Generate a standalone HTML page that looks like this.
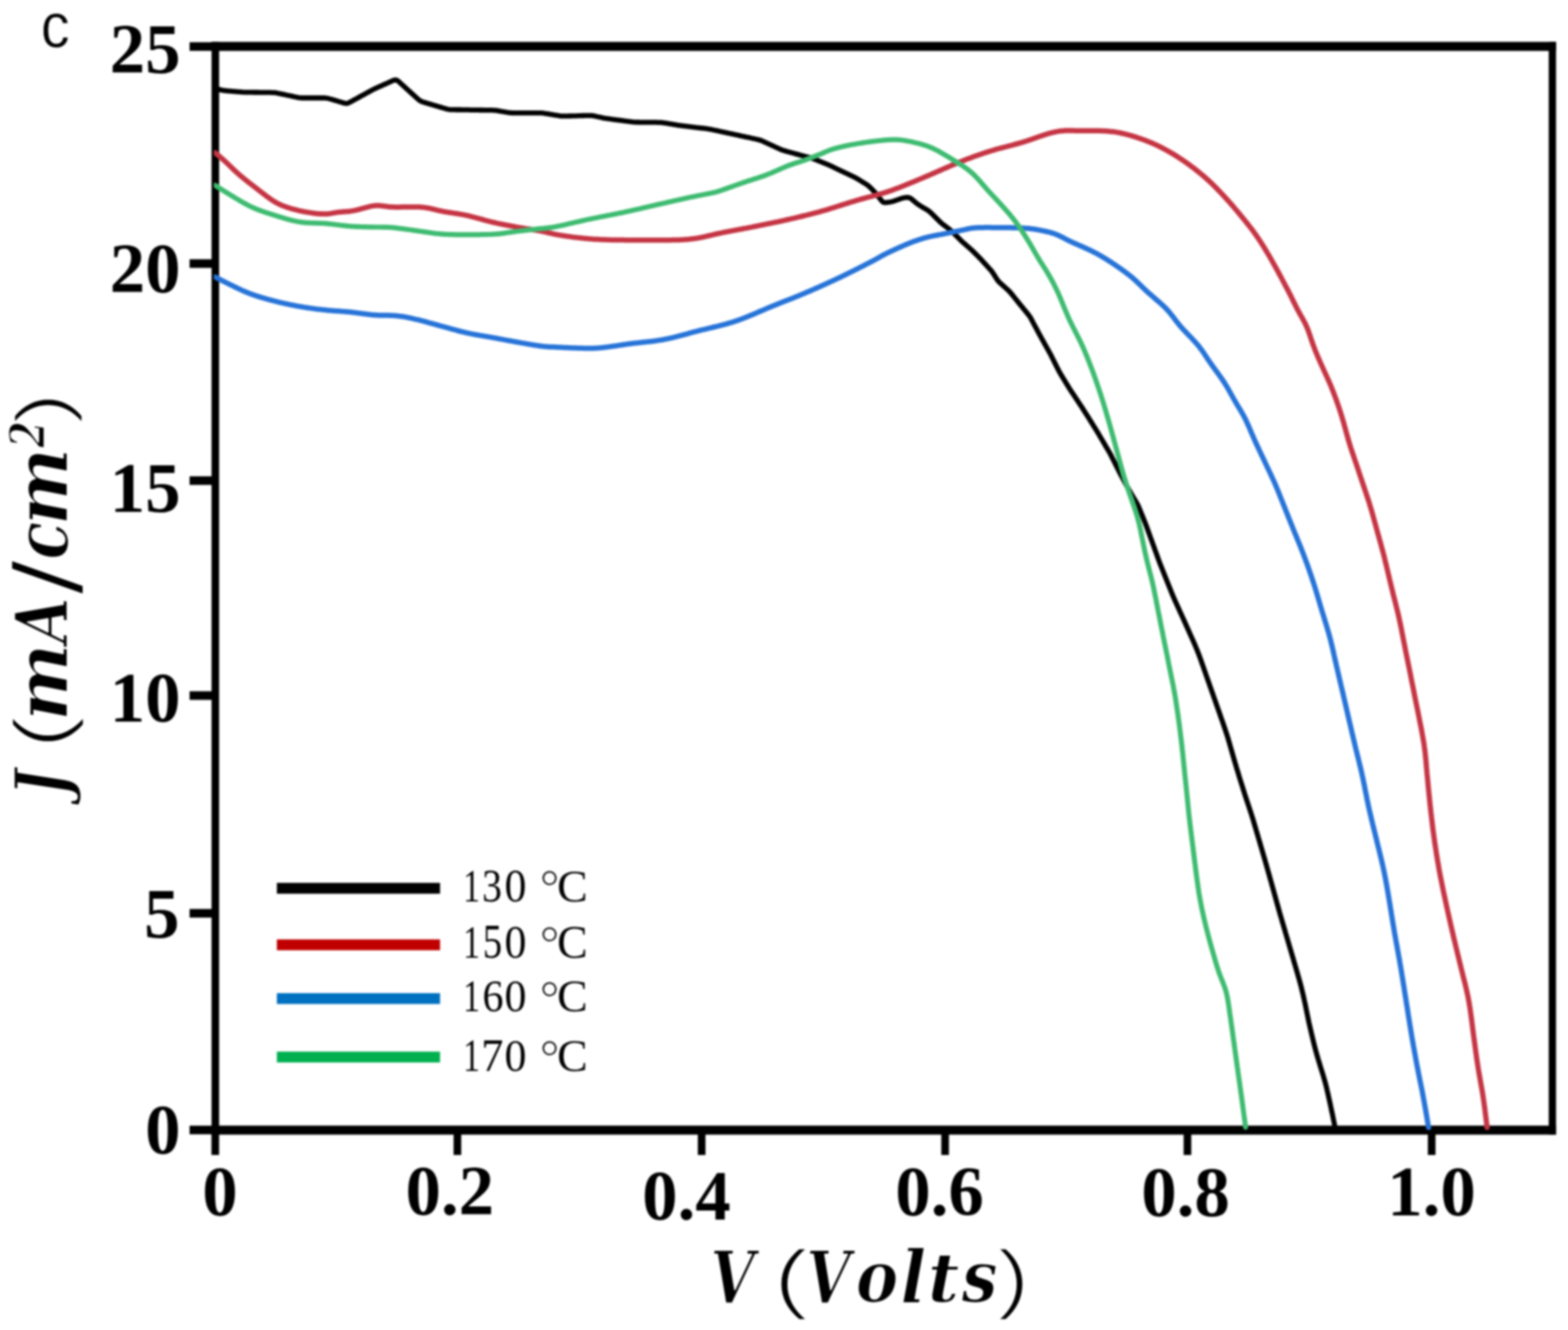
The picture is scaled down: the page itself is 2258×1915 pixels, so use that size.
<!DOCTYPE html>
<html><head><meta charset="utf-8"><title>J-V curves</title><style>html,body{margin:0;padding:0;background:#fff;overflow:hidden}svg{display:block;filter:blur(1.8px)}</style></head><body>
<svg width="2258" height="1915" viewBox="0 0 2258 1915">
<rect width="2258" height="1915" fill="#fff"/>
<g fill="#000">
<rect x="304.6" y="60.3" width="1936.2" height="13"/>
<rect x="304.6" y="1620.7" width="1936.2" height="13"/>
<rect x="304.65" y="60.3" width="10.9" height="1573.4"/>
<rect x="2230.25" y="60.3" width="10.5" height="1573.4"/>
<rect x="273" y="60.8" width="35" height="12.4"/>
<rect x="273" y="373.3" width="35" height="12.4"/>
<rect x="273" y="685.8" width="35" height="12.4"/>
<rect x="273" y="995.3" width="35" height="12.4"/>
<rect x="273" y="1308.8" width="35" height="12.4"/>
<rect x="273" y="1620.8" width="35" height="12.4"/>
<rect x="304.5" y="1627" width="11" height="36"/>
<rect x="653.2" y="1627" width="11" height="36"/>
<rect x="1004.9" y="1627" width="11" height="36"/>
<rect x="1355.5" y="1627" width="11" height="36"/>
<rect x="1704.5" y="1627" width="11" height="36"/>
<rect x="2056.2" y="1627" width="11" height="36"/>
</g>
<defs><clipPath id="pc"><rect x="308" y="67" width="1928" height="1560"/></clipPath></defs>
<g clip-path="url(#pc)" fill="none" stroke-linejoin="round" stroke-linecap="round">
<polyline points="310.0,127.3 311.9,127.8 313.9,128.3 315.8,128.8 317.7,129.4 319.7,129.8 321.6,130.2 323.6,130.5 325.6,130.7 327.6,130.9 329.6,131.1 331.6,131.2 333.6,131.4 335.6,131.6 337.5,131.7 339.5,131.9 341.5,132.1 343.5,132.2 345.5,132.4 347.5,132.5 349.5,132.7 351.5,132.8 353.5,132.8 355.5,132.9 357.5,132.9 359.5,132.9 361.5,132.9 363.5,132.9 365.5,133.0 367.5,133.0 369.5,133.0 371.5,133.0 373.5,133.1 375.5,133.1 377.5,133.1 379.5,133.1 381.5,133.1 383.5,133.2 385.5,133.2 387.5,133.2 389.5,133.2 391.5,133.3 393.5,133.3 395.5,133.4 397.5,133.7 399.4,134.1 401.4,134.5 403.3,134.9 405.3,135.3 407.3,135.7 409.2,136.1 411.2,136.5 413.1,137.0 415.1,137.4 417.0,137.8 419.0,138.2 421.0,138.6 422.9,139.1 424.9,139.5 426.8,139.9 428.8,140.3 430.7,140.6 432.7,140.9 434.7,141.0 436.7,141.0 438.7,141.0 440.7,141.0 442.7,141.0 444.7,141.0 446.7,141.0 448.7,141.0 450.7,141.0 452.7,141.0 454.7,141.0 456.7,141.0 458.7,141.0 460.7,141.0 462.7,141.0 464.7,141.0 466.7,141.0 468.7,141.1 470.7,141.3 472.6,141.7 474.5,142.2 476.5,142.7 478.4,143.3 480.3,143.9 482.2,144.4 484.1,145.0 486.1,145.6 488.0,146.2 489.9,146.7 491.8,147.3 493.7,147.9 495.6,148.4 497.5,148.8 499.4,148.9 501.2,148.4 503.0,147.7 504.7,146.7 506.5,145.8 508.2,144.8 510.0,143.8 511.8,142.9 513.5,141.9 515.3,141.0 517.0,140.0 518.8,139.0 520.5,138.1 522.3,137.1 524.0,136.2 525.8,135.2 527.5,134.2 529.3,133.3 531.1,132.3 532.8,131.3 534.6,130.4 536.3,129.4 538.1,128.5 539.9,127.7 541.7,126.8 543.5,126.0 545.4,125.2 547.2,124.4 549.0,123.6 550.9,122.7 552.7,121.9 554.5,121.1 556.3,120.3 558.2,119.5 560.0,118.7 561.8,117.8 563.6,117.0 565.5,116.2 567.3,115.5 569.0,115.1 570.7,115.2 572.3,116.0 573.8,117.1 575.3,118.4 576.8,119.8 578.2,121.1 579.7,122.5 581.2,123.8 582.7,125.2 584.1,126.5 585.6,127.9 587.1,129.2 588.6,130.6 590.1,131.9 591.5,133.3 593.0,134.6 594.5,136.0 596.0,137.3 597.5,138.7 598.9,140.0 600.4,141.3 601.9,142.7 603.4,144.0 605.0,145.1 606.7,146.0 608.6,146.7 610.5,147.3 612.4,147.9 614.3,148.4 616.2,149.0 618.2,149.6 620.1,150.1 622.0,150.7 623.9,151.3 625.8,151.8 627.7,152.4 629.7,152.9 631.6,153.5 633.5,154.1 635.4,154.6 637.3,155.2 639.3,155.8 641.2,156.3 643.1,156.9 645.0,157.3 647.0,157.6 649.0,157.8 651.0,157.9 653.0,157.9 655.0,157.9 657.0,158.0 659.0,158.0 661.0,158.0 663.0,158.0 665.0,158.1 667.0,158.1 669.0,158.1 671.0,158.2 673.0,158.2 675.0,158.2 677.0,158.3 679.0,158.3 681.0,158.3 683.0,158.3 685.0,158.4 687.0,158.4 689.0,158.4 691.0,158.5 693.0,158.5 695.0,158.5 697.0,158.6 699.0,158.6 701.0,158.6 703.0,158.6 705.0,158.7 707.0,158.7 709.0,158.7 711.0,158.8 713.0,158.9 715.0,159.1 716.9,159.4 718.9,159.8 720.9,160.1 722.8,160.5 724.8,160.8 726.8,161.1 728.8,161.5 730.7,161.8 732.7,162.2 734.7,162.4 736.7,162.5 738.7,162.6 740.7,162.6 742.7,162.6 744.7,162.6 746.7,162.6 748.7,162.6 750.7,162.6 752.7,162.6 754.7,162.6 756.7,162.6 758.7,162.6 760.7,162.6 762.7,162.6 764.7,162.6 766.7,162.6 768.7,162.6 770.7,162.6 772.7,162.6 774.7,162.6 776.7,162.6 778.7,162.6 780.7,162.7 782.6,163.0 784.6,163.3 786.6,163.6 788.6,163.9 790.5,164.2 792.5,164.6 794.5,164.9 796.5,165.2 798.4,165.6 800.4,165.9 802.4,166.2 804.3,166.5 806.3,166.8 808.3,167.1 810.3,167.2 812.3,167.2 814.3,167.2 816.3,167.1 818.3,167.1 820.3,167.0 822.3,167.0 824.3,166.9 826.3,166.9 828.3,166.8 830.3,166.8 832.3,166.7 834.3,166.7 836.3,166.6 838.3,166.5 840.3,166.5 842.3,166.4 844.3,166.4 846.3,166.3 848.3,166.3 850.3,166.3 852.3,166.5 854.2,166.7 856.2,167.1 858.1,167.5 860.1,168.0 862.1,168.4 864.0,168.8 866.0,169.2 867.9,169.7 869.9,170.1 871.8,170.4 873.8,170.7 875.8,171.0 877.8,171.2 879.8,171.5 881.8,171.8 883.7,172.0 885.7,172.3 887.7,172.5 889.7,172.8 891.7,173.0 893.7,173.3 895.6,173.5 897.6,173.8 899.6,174.1 901.6,174.3 903.6,174.6 905.6,174.8 907.5,175.1 909.5,175.3 911.5,175.6 913.5,175.8 915.5,175.9 917.5,176.0 919.5,176.0 921.5,176.1 923.5,176.1 925.5,176.1 927.5,176.1 929.5,176.1 931.5,176.1 933.5,176.1 935.5,176.2 937.5,176.2 939.5,176.2 941.5,176.2 943.5,176.2 945.5,176.2 947.5,176.3 949.5,176.3 951.5,176.4 953.5,176.5 955.5,176.8 957.4,177.1 959.4,177.4 961.4,177.7 963.4,178.1 965.3,178.4 967.3,178.7 969.3,179.1 971.2,179.4 973.2,179.7 975.2,180.1 977.2,180.4 979.1,180.7 981.1,181.0 983.1,181.2 985.1,181.5 987.1,181.7 989.1,181.9 991.0,182.2 993.0,182.4 995.0,182.6 997.0,182.9 999.0,183.1 1001.0,183.3 1003.0,183.6 1005.0,183.8 1006.9,184.0 1008.9,184.3 1010.9,184.5 1012.9,184.7 1014.9,185.0 1016.9,185.2 1018.9,185.5 1020.8,185.8 1022.8,186.1 1024.8,186.5 1026.7,187.0 1028.7,187.4 1030.6,187.8 1032.6,188.2 1034.5,188.6 1036.5,189.0 1038.4,189.5 1040.4,189.9 1042.4,190.3 1044.3,190.7 1046.3,191.1 1048.2,191.6 1050.2,192.0 1052.1,192.4 1054.1,192.8 1056.1,193.2 1058.0,193.7 1060.0,194.1 1061.9,194.5 1063.9,194.9 1065.8,195.4 1067.8,195.8 1069.7,196.2 1071.7,196.6 1073.6,197.1 1075.6,197.5 1077.6,197.9 1079.5,198.3 1081.5,198.8 1083.4,199.2 1085.4,199.6 1087.3,200.0 1089.3,200.5 1091.2,200.9 1093.2,201.4 1095.1,202.0 1096.9,202.7 1098.8,203.5 1100.6,204.3 1102.4,205.2 1104.2,206.0 1106.0,206.8 1107.9,207.7 1109.7,208.5 1111.5,209.3 1113.3,210.2 1115.1,211.0 1116.9,211.8 1118.8,212.7 1120.6,213.5 1122.4,214.3 1124.2,215.1 1126.1,215.9 1128.0,216.5 1129.9,217.1 1131.8,217.6 1133.7,218.2 1135.7,218.7 1137.6,219.2 1139.5,219.8 1141.4,220.3 1143.4,220.8 1145.3,221.4 1147.2,221.9 1149.2,222.4 1151.1,222.9 1153.0,223.5 1155.0,224.0 1156.9,224.5 1158.8,225.0 1160.8,225.5 1162.7,225.9 1164.6,226.5 1166.6,227.0 1168.5,227.6 1170.3,228.3 1172.2,229.0 1174.1,229.7 1175.9,230.5 1177.8,231.2 1179.6,232.0 1181.5,232.7 1183.4,233.5 1185.2,234.2 1187.1,235.0 1188.9,235.7 1190.8,236.5 1192.6,237.2 1194.5,238.0 1196.3,238.9 1198.1,239.7 1199.9,240.6 1201.7,241.5 1203.5,242.3 1205.3,243.2 1207.1,244.1 1208.9,244.9 1210.7,245.8 1212.5,246.6 1214.3,247.5 1216.1,248.3 1217.9,249.2 1219.7,250.0 1221.6,250.9 1223.4,251.8 1225.2,252.6 1227.0,253.5 1228.8,254.3 1230.6,255.2 1232.3,256.2 1234.1,257.1 1235.8,258.2 1237.5,259.2 1239.2,260.2 1240.9,261.3 1242.6,262.3 1244.3,263.4 1246.1,264.4 1247.7,265.5 1249.4,266.6 1250.9,267.9 1252.4,269.2 1253.8,270.6 1255.2,272.0 1256.6,273.4 1258.0,274.9 1259.4,276.3 1260.7,277.8 1262.0,279.4 1263.2,280.9 1264.5,282.5 1265.7,284.1 1266.9,285.7 1268.2,287.2 1269.4,288.8 1270.7,290.2 1272.1,291.2 1273.8,291.7 1275.7,291.7 1277.6,291.5 1279.6,291.2 1281.6,290.9 1283.5,290.5 1285.5,290.0 1287.4,289.4 1289.3,288.8 1291.2,288.1 1293.0,287.5 1294.9,286.8 1296.8,286.2 1298.7,285.5 1300.6,285.0 1302.6,284.6 1304.6,284.4 1306.5,284.2 1308.4,284.4 1310.1,284.9 1311.8,285.9 1313.3,287.1 1314.8,288.4 1316.4,289.7 1317.9,291.0 1319.4,292.3 1321.0,293.5 1322.6,294.6 1324.3,295.7 1326.0,296.8 1327.7,297.8 1329.4,298.8 1331.1,299.8 1332.9,300.9 1334.6,301.9 1336.3,303.0 1337.9,304.1 1339.4,305.4 1340.9,306.7 1342.3,308.1 1343.7,309.5 1345.1,310.9 1346.6,312.4 1348.0,313.8 1349.4,315.2 1350.8,316.6 1352.2,318.0 1353.7,319.4 1355.1,320.8 1356.6,322.1 1358.2,323.3 1359.8,324.5 1361.4,325.7 1363.0,326.9 1364.6,328.1 1366.2,329.3 1367.8,330.6 1369.3,331.8 1370.8,333.2 1372.2,334.6 1373.6,336.0 1375.0,337.4 1376.4,338.8 1377.8,340.2 1379.3,341.7 1380.7,343.1 1382.1,344.5 1383.5,345.9 1384.9,347.3 1386.4,348.7 1387.9,350.0 1389.4,351.3 1390.9,352.6 1392.4,354.0 1393.9,355.3 1395.4,356.6 1396.9,357.9 1398.4,359.2 1399.9,360.6 1401.3,362.0 1402.8,363.4 1404.2,364.8 1405.6,366.2 1407.0,367.6 1408.4,369.0 1409.8,370.4 1411.2,371.9 1412.6,373.3 1414.0,374.8 1415.3,376.3 1416.6,377.8 1418.0,379.3 1419.3,380.7 1420.7,382.2 1422.0,383.7 1423.3,385.2 1424.7,386.7 1426.0,388.2 1427.3,389.7 1428.6,391.2 1429.7,392.9 1430.8,394.5 1431.9,396.2 1432.9,397.9 1434.0,399.6 1435.1,401.3 1436.2,403.0 1437.4,404.5 1438.7,406.0 1440.2,407.4 1441.7,408.7 1443.1,410.0 1444.6,411.4 1446.1,412.7 1447.6,414.1 1449.1,415.4 1450.6,416.7 1452.0,418.1 1453.5,419.5 1454.8,421.0 1456.1,422.5 1457.4,424.0 1458.6,425.6 1459.9,427.1 1461.1,428.7 1462.4,430.3 1463.6,431.8 1464.9,433.4 1466.1,435.0 1467.4,436.5 1468.7,438.1 1469.9,439.6 1471.2,441.2 1472.5,442.7 1473.7,444.3 1475.0,445.8 1476.3,447.4 1477.5,448.9 1478.8,450.5 1480.1,452.0 1481.3,453.6 1482.5,455.2 1483.6,456.8 1484.6,458.6 1485.5,460.3 1486.5,462.1 1487.4,463.9 1488.3,465.6 1489.3,467.4 1490.2,469.1 1491.2,470.9 1492.1,472.7 1493.1,474.4 1494.0,476.2 1494.9,478.0 1495.9,479.7 1496.8,481.5 1497.8,483.2 1498.8,485.0 1499.7,486.7 1500.7,488.5 1501.7,490.2 1502.7,492.0 1503.6,493.7 1504.6,495.5 1505.6,497.2 1506.5,499.0 1507.5,500.7 1508.5,502.5 1509.5,504.2 1510.4,506.0 1511.4,507.7 1512.4,509.5 1513.3,511.2 1514.2,513.0 1515.1,514.8 1516.0,516.6 1516.9,518.4 1517.8,520.2 1518.7,522.0 1519.6,523.7 1520.5,525.5 1521.4,527.3 1522.3,529.1 1523.2,530.9 1524.1,532.7 1525.0,534.5 1526.0,536.2 1527.0,537.9 1528.0,539.7 1529.1,541.4 1530.1,543.1 1531.1,544.8 1532.2,546.5 1533.2,548.2 1534.2,549.9 1535.3,551.6 1536.3,553.3 1537.4,555.0 1538.4,556.8 1539.5,558.5 1540.5,560.1 1541.6,561.8 1542.7,563.5 1543.8,565.1 1545.0,566.8 1546.1,568.5 1547.2,570.1 1548.3,571.8 1549.4,573.5 1550.5,575.1 1551.6,576.8 1552.7,578.5 1553.8,580.1 1554.9,581.8 1556.0,583.5 1557.1,585.1 1558.2,586.8 1559.3,588.5 1560.4,590.2 1561.5,591.9 1562.5,593.6 1563.6,595.2 1564.7,596.9 1565.7,598.6 1566.8,600.3 1567.9,602.0 1568.9,603.7 1570.0,605.4 1571.1,607.1 1572.1,608.8 1573.2,610.5 1574.2,612.2 1575.3,613.9 1576.4,615.6 1577.4,617.3 1578.5,619.0 1579.5,620.7 1580.6,622.4 1581.6,624.1 1582.6,625.8 1583.6,627.6 1584.6,629.3 1585.6,631.0 1586.7,632.7 1587.7,634.5 1588.7,636.2 1589.7,637.9 1590.7,639.6 1591.7,641.4 1592.7,643.1 1593.7,644.8 1594.8,646.5 1595.8,648.3 1596.8,650.0 1597.8,651.7 1598.8,653.5 1599.7,655.2 1600.6,657.0 1601.5,658.8 1602.4,660.6 1603.3,662.4 1604.2,664.1 1605.1,665.9 1606.0,667.7 1606.9,669.5 1607.8,671.3 1608.7,673.1 1609.6,674.9 1610.5,676.7 1611.4,678.5 1612.3,680.2 1613.2,682.0 1614.1,683.8 1615.1,685.6 1616.0,687.3 1617.0,689.1 1617.9,690.8 1618.9,692.6 1619.8,694.4 1620.8,696.1 1621.7,697.9 1622.7,699.7 1623.6,701.4 1624.6,703.2 1625.5,704.9 1626.5,706.7 1627.5,708.4 1628.5,710.1 1629.5,711.9 1630.5,713.6 1631.6,715.3 1632.6,717.0 1633.6,718.7 1634.6,720.4 1635.7,722.2 1636.7,723.9 1637.7,725.6 1638.6,727.4 1639.5,729.2 1640.3,731.0 1641.0,732.9 1641.8,734.7 1642.5,736.6 1643.3,738.4 1644.0,740.3 1644.8,742.1 1645.5,744.0 1646.3,745.8 1647.0,747.7 1647.8,749.5 1648.5,751.4 1649.3,753.3 1650.0,755.1 1650.7,757.0 1651.4,758.9 1652.1,760.8 1652.7,762.6 1653.4,764.5 1654.1,766.4 1654.8,768.3 1655.5,770.2 1656.1,772.0 1656.8,773.9 1657.5,775.8 1658.2,777.7 1658.9,779.6 1659.5,781.5 1660.2,783.3 1660.9,785.2 1661.6,787.1 1662.3,789.0 1662.9,790.9 1663.6,792.7 1664.3,794.6 1665.0,796.5 1665.7,798.4 1666.3,800.3 1667.0,802.1 1667.7,804.0 1668.4,805.9 1669.1,807.8 1669.8,809.7 1670.5,811.5 1671.2,813.4 1672.0,815.2 1672.7,817.1 1673.5,819.0 1674.2,820.8 1674.9,822.7 1675.7,824.5 1676.4,826.4 1677.1,828.3 1677.9,830.1 1678.6,832.0 1679.4,833.8 1680.1,835.7 1680.9,837.6 1681.6,839.4 1682.3,841.3 1683.1,843.1 1683.8,845.0 1684.6,846.8 1685.3,848.7 1686.1,850.5 1686.8,852.4 1687.6,854.3 1688.3,856.1 1689.1,857.9 1689.9,859.8 1690.7,861.6 1691.5,863.4 1692.3,865.3 1693.1,867.1 1694.0,868.9 1694.8,870.8 1695.6,872.6 1696.4,874.4 1697.3,876.2 1698.1,878.0 1698.9,879.9 1699.7,881.7 1700.6,883.5 1701.4,885.3 1702.2,887.1 1703.1,889.0 1703.9,890.8 1704.7,892.6 1705.5,894.4 1706.4,896.3 1707.2,898.1 1708.0,899.9 1708.8,901.7 1709.6,903.5 1710.5,905.4 1711.3,907.2 1712.1,909.0 1712.9,910.9 1713.7,912.7 1714.5,914.5 1715.3,916.3 1716.2,918.2 1717.0,920.0 1717.8,921.8 1718.6,923.7 1719.4,925.5 1720.2,927.3 1721.0,929.2 1721.8,931.0 1722.5,932.8 1723.3,934.7 1724.1,936.5 1724.8,938.4 1725.5,940.2 1726.3,942.1 1727.0,944.0 1727.7,945.9 1728.3,947.7 1729.0,949.6 1729.7,951.5 1730.4,953.4 1731.0,955.3 1731.7,957.2 1732.4,959.0 1733.0,960.9 1733.7,962.8 1734.3,964.7 1735.0,966.6 1735.7,968.5 1736.3,970.4 1737.0,972.3 1737.6,974.2 1738.3,976.0 1739.0,977.9 1739.6,979.8 1740.3,981.7 1741.0,983.6 1741.6,985.5 1742.3,987.4 1742.9,989.3 1743.6,991.1 1744.3,993.0 1744.9,994.9 1745.6,996.8 1746.3,998.7 1746.9,1000.6 1747.6,1002.5 1748.2,1004.4 1748.9,1006.2 1749.6,1008.1 1750.2,1010.0 1750.9,1011.9 1751.6,1013.8 1752.2,1015.7 1752.9,1017.6 1753.5,1019.5 1754.2,1021.3 1754.9,1023.2 1755.5,1025.1 1756.2,1027.0 1756.9,1028.9 1757.5,1030.8 1758.2,1032.7 1758.8,1034.6 1759.5,1036.5 1760.2,1038.3 1760.8,1040.2 1761.5,1042.1 1762.1,1044.0 1762.8,1045.9 1763.4,1047.8 1764.1,1049.7 1764.7,1051.6 1765.3,1053.5 1766.0,1055.4 1766.6,1057.3 1767.2,1059.2 1767.8,1061.1 1768.4,1063.0 1768.9,1064.9 1769.5,1066.8 1770.1,1068.8 1770.6,1070.7 1771.2,1072.6 1771.7,1074.5 1772.3,1076.5 1772.8,1078.4 1773.4,1080.3 1773.9,1082.2 1774.5,1084.1 1775.0,1086.1 1775.6,1088.0 1776.1,1089.9 1776.7,1091.8 1777.2,1093.8 1777.8,1095.7 1778.4,1097.6 1778.9,1099.5 1779.5,1101.4 1780.1,1103.4 1780.6,1105.3 1781.2,1107.2 1781.8,1109.1 1782.4,1111.0 1783.0,1112.9 1783.6,1114.8 1784.1,1116.7 1784.7,1118.7 1785.3,1120.6 1785.9,1122.5 1786.5,1124.4 1787.1,1126.3 1787.7,1128.2 1788.3,1130.1 1788.9,1132.0 1789.5,1133.9 1790.1,1135.9 1790.7,1137.8 1791.3,1139.7 1791.9,1141.6 1792.5,1143.5 1793.1,1145.4 1793.7,1147.3 1794.4,1149.2 1795.0,1151.1 1795.6,1153.0 1796.3,1154.9 1796.9,1156.8 1797.5,1158.7 1798.2,1160.6 1798.8,1162.5 1799.4,1164.4 1800.0,1166.3 1800.7,1168.2 1801.3,1170.1 1801.9,1172.0 1802.5,1173.9 1803.1,1175.8 1803.7,1177.7 1804.3,1179.6 1804.9,1181.5 1805.4,1183.4 1806.0,1185.4 1806.6,1187.3 1807.1,1189.2 1807.7,1191.1 1808.3,1193.0 1808.8,1195.0 1809.4,1196.9 1810.0,1198.8 1810.5,1200.7 1811.1,1202.6 1811.7,1204.6 1812.2,1206.5 1812.8,1208.4 1813.4,1210.3 1813.9,1212.2 1814.5,1214.1 1815.0,1216.1 1815.6,1218.0 1816.2,1219.9 1816.7,1221.8 1817.3,1223.7 1817.9,1225.7 1818.4,1227.6 1819.0,1229.5 1819.5,1231.4 1820.1,1233.3 1820.7,1235.3 1821.2,1237.2 1821.8,1239.1 1822.3,1241.0 1822.9,1243.0 1823.4,1244.9 1824.0,1246.8 1824.5,1248.7 1825.1,1250.7 1825.6,1252.6 1826.1,1254.5 1826.7,1256.4 1827.2,1258.4 1827.8,1260.3 1828.3,1262.2 1828.8,1264.1 1829.4,1266.1 1829.9,1268.0 1830.5,1269.9 1831.0,1271.8 1831.5,1273.8 1832.1,1275.7 1832.6,1277.6 1833.2,1279.6 1833.7,1281.5 1834.2,1283.4 1834.8,1285.3 1835.3,1287.3 1835.8,1289.2 1836.4,1291.1 1836.9,1293.0 1837.4,1295.0 1838.0,1296.9 1838.5,1298.8 1839.0,1300.8 1839.6,1302.7 1840.1,1304.6 1840.7,1306.5 1841.2,1308.5 1841.7,1310.4 1842.3,1312.3 1842.8,1314.2 1843.4,1316.2 1843.9,1318.1 1844.5,1320.0 1845.1,1321.9 1845.6,1323.8 1846.2,1325.8 1846.7,1327.7 1847.3,1329.6 1847.9,1331.5 1848.4,1333.4 1849.0,1335.4 1849.6,1337.3 1850.1,1339.2 1850.7,1341.1 1851.2,1343.0 1851.8,1345.0 1852.4,1346.9 1852.9,1348.8 1853.5,1350.7 1854.1,1352.6 1854.6,1354.6 1855.2,1356.5 1855.8,1358.4 1856.3,1360.3 1856.9,1362.2 1857.4,1364.2 1858.0,1366.1 1858.6,1368.0 1859.1,1369.9 1859.7,1371.8 1860.3,1373.8 1860.8,1375.7 1861.4,1377.6 1862.0,1379.5 1862.5,1381.4 1863.1,1383.3 1863.6,1385.3 1864.2,1387.2 1864.8,1389.1 1865.3,1391.0 1865.9,1392.9 1866.5,1394.9 1867.0,1396.8 1867.6,1398.7 1868.1,1400.6 1868.7,1402.5 1869.2,1404.5 1869.8,1406.4 1870.3,1408.3 1870.9,1410.2 1871.4,1412.2 1871.9,1414.1 1872.5,1416.0 1873.0,1418.0 1873.5,1419.9 1874.0,1421.8 1874.4,1423.8 1874.9,1425.7 1875.4,1427.7 1875.9,1429.6 1876.3,1431.6 1876.8,1433.5 1877.2,1435.5 1877.7,1437.4 1878.1,1439.4 1878.5,1441.3 1879.0,1443.3 1879.4,1445.2 1879.8,1447.2 1880.2,1449.1 1880.6,1451.1 1881.0,1453.1 1881.4,1455.0 1881.8,1457.0 1882.2,1458.9 1882.6,1460.9 1883.0,1462.9 1883.4,1464.8 1883.8,1466.8 1884.2,1468.7 1884.6,1470.7 1885.0,1472.6 1885.5,1474.6 1885.9,1476.6 1886.4,1478.5 1886.8,1480.5 1887.3,1482.4 1887.7,1484.4 1888.2,1486.3 1888.6,1488.2 1889.1,1490.2 1889.6,1492.1 1890.0,1494.1 1890.5,1496.0 1891.0,1498.0 1891.4,1499.9 1891.9,1501.9 1892.4,1503.8 1892.9,1505.7 1893.4,1507.7 1893.9,1509.6 1894.4,1511.5 1894.9,1513.5 1895.5,1515.4 1896.0,1517.3 1896.5,1519.3 1897.1,1521.2 1897.7,1523.1 1898.2,1525.0 1898.8,1526.9 1899.4,1528.8 1900.0,1530.8 1900.6,1532.7 1901.1,1534.6 1901.7,1536.5 1902.3,1538.4 1902.9,1540.3 1903.5,1542.2 1904.1,1544.1 1904.7,1546.0 1905.3,1548.0 1905.9,1549.9 1906.4,1551.8 1907.0,1553.7 1907.5,1555.6 1908.1,1557.6 1908.6,1559.5 1909.1,1561.4 1909.6,1563.4 1910.1,1565.3 1910.5,1567.2 1911.0,1569.2 1911.4,1571.1 1911.9,1573.1 1912.3,1575.0 1912.8,1577.0 1913.2,1578.9 1913.6,1580.9 1914.1,1582.8 1914.5,1584.8 1914.9,1586.8 1915.4,1588.7 1915.8,1590.7 1916.2,1592.6 1916.6,1594.6 1917.0,1596.5 1917.4,1598.5 1917.8,1600.5 1918.3,1602.4 1918.7,1604.4 1919.1,1606.3 1919.5,1608.3 1919.9,1610.2 1920.3,1612.2 1920.7,1614.2 1921.1,1616.1 1921.5,1618.1 1921.9,1620.0 1922.3,1622.0" stroke="#000" stroke-width="7.3"/>
<polyline points="310.0,220.0 311.5,221.3 313.1,222.6 314.6,223.9 316.1,225.2 317.6,226.5 319.1,227.8 320.6,229.1 322.1,230.5 323.6,231.8 325.1,233.2 326.5,234.5 328.0,235.9 329.4,237.3 330.8,238.7 332.3,240.1 333.7,241.5 335.2,242.9 336.6,244.3 338.1,245.6 339.5,247.0 341.0,248.3 342.5,249.7 344.0,251.0 345.5,252.3 347.0,253.6 348.5,254.9 350.1,256.2 351.6,257.4 353.2,258.7 354.8,259.9 356.3,261.2 357.9,262.4 359.5,263.6 361.1,264.9 362.7,266.1 364.2,267.3 365.8,268.5 367.4,269.8 369.0,271.0 370.6,272.2 372.1,273.4 373.7,274.7 375.3,275.9 376.9,277.1 378.5,278.4 380.0,279.6 381.6,280.8 383.2,282.0 384.8,283.2 386.5,284.4 388.1,285.5 389.7,286.7 391.4,287.8 393.0,288.9 394.7,289.9 396.5,291.0 398.2,292.0 399.9,292.9 401.7,293.8 403.5,294.6 405.4,295.5 407.2,296.2 409.1,296.9 411.0,297.6 412.8,298.3 414.7,298.9 416.7,299.5 418.6,300.1 420.5,300.6 422.4,301.2 424.3,301.7 426.3,302.2 428.2,302.7 430.2,303.2 432.1,303.6 434.1,304.0 436.0,304.4 438.0,304.8 440.0,305.1 441.9,305.5 443.9,305.8 445.9,306.1 447.9,306.4 449.8,306.7 451.8,307.0 453.8,307.2 455.8,307.5 457.8,307.7 459.8,307.8 461.8,308.0 463.8,308.1 465.8,308.1 467.7,308.1 469.7,308.0 471.7,307.9 473.7,307.7 475.7,307.4 477.7,307.1 479.6,306.8 481.6,306.4 483.6,306.1 485.6,305.8 487.5,305.6 489.5,305.3 491.5,305.2 493.5,305.0 495.5,304.8 497.5,304.7 499.5,304.6 501.5,304.4 503.5,304.2 505.4,303.9 507.4,303.6 509.4,303.3 511.3,302.9 513.3,302.4 515.2,302.0 517.2,301.5 519.1,300.9 521.0,300.4 523.0,299.9 524.9,299.3 526.8,298.8 528.7,298.3 530.7,297.8 532.6,297.3 534.6,296.9 536.5,296.6 538.5,296.3 540.5,296.1 542.5,296.0 544.5,296.0 546.4,296.1 548.4,296.2 550.4,296.4 552.4,296.7 554.4,297.0 556.3,297.3 558.3,297.5 560.3,297.7 562.3,297.9 564.3,298.1 566.3,298.1 568.3,298.2 570.3,298.2 572.3,298.2 574.3,298.2 576.3,298.2 578.3,298.1 580.3,298.1 582.3,298.1 584.3,298.0 586.3,298.0 588.3,297.9 590.3,297.9 592.3,297.9 594.3,297.9 596.3,297.9 598.3,297.9 600.3,297.9 602.3,298.0 604.3,298.1 606.3,298.2 608.3,298.4 610.3,298.6 612.2,298.9 614.2,299.2 616.2,299.5 618.1,299.9 620.1,300.3 622.0,300.8 624.0,301.2 625.9,301.7 627.9,302.2 629.8,302.7 631.8,303.1 633.7,303.5 635.7,303.9 637.6,304.3 639.6,304.7 641.6,305.0 643.5,305.4 645.5,305.7 647.5,306.0 649.5,306.3 651.5,306.6 653.4,306.9 655.4,307.2 657.4,307.5 659.4,307.8 661.3,308.1 663.3,308.5 665.3,308.8 667.2,309.2 669.2,309.6 671.2,310.0 673.1,310.4 675.1,310.8 677.0,311.3 679.0,311.8 680.9,312.3 682.8,312.8 684.8,313.3 686.7,313.8 688.6,314.4 690.5,314.9 692.5,315.4 694.4,316.0 696.3,316.5 698.3,317.1 700.2,317.6 702.1,318.1 704.1,318.6 706.0,319.1 707.9,319.6 709.9,320.0 711.8,320.5 713.8,320.9 715.7,321.3 717.7,321.8 719.6,322.2 721.6,322.6 723.6,323.0 725.5,323.4 727.5,323.8 729.5,324.1 731.4,324.5 733.4,324.9 735.4,325.3 737.3,325.6 739.3,326.0 741.3,326.4 743.2,326.7 745.2,327.1 747.2,327.4 749.1,327.8 751.1,328.1 753.1,328.4 755.1,328.8 757.0,329.1 759.0,329.4 761.0,329.7 763.0,330.0 764.9,330.3 766.9,330.7 768.9,331.0 770.9,331.3 772.8,331.6 774.8,332.0 776.8,332.3 778.7,332.7 780.7,333.1 782.7,333.5 784.6,333.9 786.6,334.3 788.5,334.8 790.4,335.3 792.4,335.7 794.3,336.2 796.3,336.6 798.2,337.1 800.2,337.5 802.2,337.8 804.1,338.2 806.1,338.5 808.1,338.9 810.1,339.2 812.0,339.5 814.0,339.8 816.0,340.1 818.0,340.4 820.0,340.6 821.9,340.9 823.9,341.2 825.9,341.4 827.9,341.7 829.9,341.9 831.9,342.1 833.8,342.4 835.8,342.6 837.8,342.8 839.8,343.0 841.8,343.2 843.8,343.4 845.8,343.6 847.8,343.8 849.8,343.9 851.8,344.1 853.8,344.2 855.8,344.4 857.8,344.5 859.8,344.6 861.8,344.7 863.8,344.8 865.7,344.9 867.7,345.0 869.7,345.1 871.7,345.1 873.7,345.2 875.7,345.3 877.7,345.3 879.7,345.4 881.7,345.4 883.7,345.4 885.7,345.5 887.7,345.5 889.7,345.5 891.7,345.6 893.7,345.6 895.7,345.6 897.8,345.6 899.8,345.7 901.8,345.7 903.8,345.7 905.8,345.7 907.8,345.7 909.8,345.7 911.8,345.7 913.8,345.7 915.8,345.7 917.8,345.7 919.8,345.7 921.8,345.7 923.8,345.7 925.8,345.7 927.8,345.7 929.8,345.7 931.8,345.7 933.8,345.7 935.8,345.7 937.8,345.7 939.8,345.7 941.8,345.7 943.8,345.7 945.8,345.7 947.8,345.7 949.8,345.8 951.8,345.8 953.8,345.8 955.8,345.7 957.8,345.7 959.8,345.7 961.8,345.7 963.8,345.7 965.8,345.7 967.8,345.6 969.8,345.6 971.8,345.5 973.8,345.5 975.8,345.4 977.8,345.4 979.8,345.3 981.8,345.2 983.8,345.1 985.8,345.0 987.8,344.8 989.8,344.7 991.7,344.5 993.7,344.3 995.7,344.1 997.7,343.8 999.7,343.6 1001.7,343.3 1003.6,343.0 1005.6,342.6 1007.6,342.3 1009.5,341.9 1011.5,341.5 1013.5,341.1 1015.4,340.6 1017.4,340.2 1019.3,339.7 1021.3,339.3 1023.2,338.8 1025.2,338.4 1027.1,337.9 1029.0,337.4 1031.0,337.0 1032.9,336.5 1034.9,336.1 1036.9,335.7 1038.8,335.3 1040.8,334.9 1042.7,334.5 1044.7,334.1 1046.7,333.7 1048.6,333.3 1050.6,333.0 1052.6,332.6 1054.5,332.2 1056.5,331.9 1058.5,331.5 1060.4,331.1 1062.4,330.8 1064.4,330.4 1066.3,330.0 1068.3,329.7 1070.3,329.3 1072.2,328.9 1074.2,328.6 1076.2,328.2 1078.1,327.8 1080.1,327.4 1082.1,327.1 1084.0,326.7 1086.0,326.3 1087.9,325.9 1089.9,325.5 1091.9,325.1 1093.8,324.7 1095.8,324.3 1097.8,323.9 1099.7,323.5 1101.7,323.1 1103.6,322.7 1105.6,322.3 1107.6,321.9 1109.5,321.5 1111.5,321.1 1113.4,320.7 1115.4,320.3 1117.4,319.9 1119.3,319.5 1121.3,319.1 1123.2,318.6 1125.2,318.2 1127.1,317.8 1129.1,317.4 1131.0,316.9 1133.0,316.5 1134.9,316.0 1136.9,315.6 1138.8,315.2 1140.8,314.7 1142.7,314.3 1144.7,313.8 1146.6,313.3 1148.6,312.9 1150.5,312.4 1152.5,312.0 1154.4,311.5 1156.4,311.0 1158.3,310.5 1160.2,310.1 1162.2,309.6 1164.1,309.1 1166.1,308.6 1168.0,308.1 1169.9,307.6 1171.9,307.1 1173.8,306.6 1175.8,306.1 1177.7,305.6 1179.6,305.1 1181.5,304.5 1183.5,304.0 1185.4,303.4 1187.3,302.9 1189.2,302.3 1191.2,301.8 1193.1,301.2 1195.0,300.6 1196.9,300.0 1198.8,299.4 1200.7,298.9 1202.6,298.3 1204.5,297.6 1206.5,297.0 1208.4,296.4 1210.3,295.8 1212.2,295.2 1214.1,294.6 1216.0,294.0 1217.9,293.4 1219.8,292.8 1221.7,292.2 1223.6,291.6 1225.5,291.0 1227.4,290.4 1229.4,289.8 1231.3,289.3 1233.2,288.7 1235.1,288.1 1237.0,287.6 1239.0,287.0 1240.9,286.5 1242.8,286.0 1244.8,285.5 1246.7,284.9 1248.6,284.4 1250.6,283.9 1252.5,283.4 1254.4,282.9 1256.4,282.4 1258.3,281.9 1260.2,281.4 1262.2,280.8 1264.1,280.3 1266.0,279.8 1267.9,279.2 1269.8,278.7 1271.8,278.1 1273.7,277.5 1275.6,276.9 1277.5,276.3 1279.4,275.7 1281.3,275.0 1283.2,274.4 1285.1,273.7 1286.9,273.0 1288.8,272.3 1290.7,271.6 1292.6,270.9 1294.4,270.2 1296.3,269.5 1298.2,268.8 1300.0,268.0 1301.9,267.3 1303.7,266.5 1305.6,265.8 1307.4,265.0 1309.3,264.3 1311.1,263.5 1313.0,262.7 1314.8,262.0 1316.7,261.2 1318.5,260.4 1320.4,259.7 1322.2,258.9 1324.1,258.1 1325.9,257.4 1327.8,256.6 1329.6,255.8 1331.5,255.0 1333.3,254.3 1335.1,253.5 1337.0,252.7 1338.8,251.9 1340.7,251.1 1342.5,250.3 1344.3,249.5 1346.2,248.7 1348.0,247.9 1349.8,247.1 1351.7,246.3 1353.5,245.5 1355.3,244.7 1357.1,243.9 1359.0,243.1 1360.8,242.3 1362.6,241.5 1364.5,240.7 1366.3,239.9 1368.2,239.1 1370.0,238.3 1371.8,237.5 1373.7,236.7 1375.5,236.0 1377.4,235.2 1379.2,234.4 1381.1,233.7 1382.9,232.9 1384.8,232.2 1386.7,231.5 1388.5,230.7 1390.4,230.0 1392.3,229.3 1394.1,228.6 1396.0,227.9 1397.9,227.2 1399.7,226.5 1401.6,225.8 1403.5,225.1 1405.4,224.4 1407.3,223.8 1409.2,223.1 1411.1,222.5 1412.9,221.8 1414.8,221.2 1416.7,220.5 1418.6,219.9 1420.5,219.3 1422.4,218.7 1424.4,218.1 1426.3,217.5 1428.2,216.9 1430.1,216.4 1432.0,215.8 1433.9,215.2 1435.9,214.7 1437.8,214.2 1439.7,213.7 1441.7,213.1 1443.6,212.6 1445.5,212.1 1447.5,211.6 1449.4,211.1 1451.3,210.6 1453.3,210.1 1455.2,209.6 1457.1,209.1 1459.1,208.6 1461.0,208.0 1462.9,207.5 1464.9,207.0 1466.8,206.5 1468.7,205.9 1470.6,205.3 1472.6,204.8 1474.5,204.2 1476.4,203.6 1478.3,203.0 1480.2,202.4 1482.1,201.7 1484.0,201.1 1485.9,200.4 1487.8,199.8 1489.7,199.1 1491.5,198.5 1493.4,197.8 1495.3,197.1 1497.2,196.5 1499.1,195.8 1501.0,195.2 1502.9,194.6 1504.8,193.9 1506.7,193.3 1508.6,192.7 1510.5,192.2 1512.5,191.6 1514.4,191.1 1516.3,190.6 1518.3,190.2 1520.2,189.8 1522.2,189.4 1524.2,189.1 1526.1,188.8 1528.1,188.6 1530.1,188.4 1532.1,188.2 1534.1,188.1 1536.1,188.1 1538.1,188.0 1540.1,188.0 1542.1,188.0 1544.1,188.1 1546.1,188.1 1548.1,188.2 1550.1,188.2 1552.1,188.2 1554.1,188.3 1556.1,188.3 1558.1,188.3 1560.1,188.3 1562.1,188.2 1564.1,188.2 1566.1,188.2 1568.1,188.2 1570.1,188.2 1572.1,188.2 1574.1,188.2 1576.1,188.2 1578.1,188.2 1580.1,188.2 1582.1,188.3 1584.1,188.3 1586.1,188.4 1588.1,188.5 1590.1,188.6 1592.1,188.7 1594.1,188.8 1596.1,189.0 1598.1,189.2 1600.1,189.4 1602.1,189.6 1604.0,189.8 1606.0,190.1 1608.0,190.4 1610.0,190.8 1611.9,191.1 1613.9,191.5 1615.8,192.0 1617.8,192.4 1619.7,192.9 1621.7,193.3 1623.6,193.9 1625.5,194.4 1627.5,194.9 1629.4,195.5 1631.3,196.0 1633.2,196.6 1635.1,197.2 1637.0,197.8 1638.9,198.5 1640.8,199.1 1642.7,199.7 1644.6,200.4 1646.5,201.1 1648.4,201.8 1650.2,202.5 1652.1,203.2 1654.0,204.0 1655.8,204.7 1657.7,205.5 1659.5,206.3 1661.3,207.1 1663.2,207.9 1665.0,208.7 1666.8,209.6 1668.6,210.5 1670.4,211.3 1672.2,212.2 1673.9,213.2 1675.7,214.1 1677.5,215.0 1679.2,216.0 1681.0,216.9 1682.7,217.9 1684.5,218.9 1686.2,219.9 1687.9,220.9 1689.7,221.9 1691.4,223.0 1693.1,224.0 1694.8,225.1 1696.4,226.2 1698.1,227.3 1699.8,228.4 1701.5,229.5 1703.1,230.6 1704.8,231.7 1706.4,232.9 1708.1,234.0 1709.7,235.2 1711.3,236.3 1712.9,237.5 1714.5,238.7 1716.1,239.9 1717.7,241.1 1719.3,242.3 1720.9,243.5 1722.5,244.8 1724.0,246.0 1725.6,247.3 1727.2,248.5 1728.7,249.8 1730.3,251.1 1731.8,252.3 1733.3,253.6 1734.8,254.9 1736.3,256.3 1737.8,257.6 1739.3,258.9 1740.8,260.3 1742.3,261.6 1743.7,263.0 1745.2,264.4 1746.6,265.8 1748.0,267.2 1749.4,268.6 1750.8,270.0 1752.2,271.5 1753.6,272.9 1755.0,274.4 1756.4,275.8 1757.8,277.3 1759.1,278.7 1760.5,280.2 1761.9,281.6 1763.2,283.1 1764.6,284.6 1765.9,286.1 1767.3,287.5 1768.6,289.0 1769.9,290.5 1771.3,292.0 1772.6,293.5 1773.9,295.0 1775.2,296.5 1776.5,298.0 1777.8,299.6 1779.1,301.1 1780.4,302.6 1781.7,304.1 1783.0,305.7 1784.3,307.2 1785.5,308.8 1786.8,310.3 1788.1,311.9 1789.3,313.4 1790.6,315.0 1791.9,316.5 1793.1,318.1 1794.4,319.6 1795.6,321.2 1796.9,322.7 1798.1,324.3 1799.4,325.9 1800.6,327.5 1801.8,329.0 1803.0,330.6 1804.2,332.2 1805.4,333.9 1806.6,335.5 1807.7,337.1 1808.9,338.7 1810.0,340.4 1811.2,342.0 1812.3,343.7 1813.4,345.4 1814.5,347.0 1815.6,348.7 1816.7,350.4 1817.7,352.1 1818.8,353.8 1819.9,355.5 1820.9,357.2 1821.9,358.9 1823.0,360.6 1824.0,362.3 1825.0,364.0 1826.1,365.7 1827.1,367.5 1828.1,369.2 1829.1,370.9 1830.1,372.7 1831.1,374.4 1832.1,376.1 1833.0,377.9 1834.0,379.6 1835.0,381.4 1836.0,383.1 1836.9,384.9 1837.9,386.6 1838.9,388.4 1839.8,390.1 1840.8,391.9 1841.7,393.7 1842.7,395.4 1843.6,397.2 1844.6,398.9 1845.5,400.7 1846.5,402.5 1847.4,404.2 1848.3,406.0 1849.3,407.8 1850.2,409.5 1851.1,411.3 1852.1,413.1 1853.0,414.8 1853.9,416.6 1854.9,418.4 1855.8,420.2 1856.7,422.0 1857.6,423.7 1858.5,425.5 1859.4,427.3 1860.3,429.1 1861.1,430.9 1862.0,432.7 1862.9,434.5 1863.8,436.3 1864.7,438.1 1865.6,439.9 1866.5,441.7 1867.4,443.5 1868.3,445.2 1869.2,447.0 1870.2,448.8 1871.1,450.5 1872.1,452.3 1873.1,454.0 1874.1,455.8 1875.1,457.5 1876.0,459.2 1877.0,461.0 1877.9,462.7 1878.9,464.5 1879.8,466.3 1880.6,468.1 1881.4,469.9 1882.2,471.8 1883.0,473.6 1883.7,475.5 1884.4,477.4 1885.1,479.3 1885.7,481.1 1886.4,483.0 1887.0,484.9 1887.6,486.8 1888.3,488.7 1888.9,490.6 1889.6,492.5 1890.2,494.4 1890.9,496.3 1891.6,498.2 1892.3,500.0 1893.0,501.9 1893.7,503.8 1894.4,505.6 1895.2,507.5 1896.0,509.3 1896.7,511.2 1897.5,513.0 1898.3,514.9 1899.1,516.7 1899.9,518.5 1900.7,520.4 1901.5,522.2 1902.3,524.0 1903.1,525.8 1904.0,527.7 1904.8,529.5 1905.6,531.3 1906.4,533.1 1907.3,535.0 1908.1,536.8 1908.9,538.6 1909.8,540.4 1910.6,542.2 1911.4,544.0 1912.3,545.9 1913.1,547.7 1913.9,549.5 1914.7,551.4 1915.5,553.2 1916.3,555.0 1917.0,556.9 1917.8,558.8 1918.5,560.6 1919.2,562.5 1920.0,564.3 1920.7,566.2 1921.4,568.1 1922.1,569.9 1922.8,571.8 1923.5,573.7 1924.2,575.6 1924.9,577.4 1925.5,579.3 1926.2,581.2 1926.9,583.1 1927.5,585.0 1928.2,586.9 1928.8,588.8 1929.4,590.7 1930.0,592.6 1930.7,594.5 1931.2,596.4 1931.8,598.3 1932.4,600.2 1933.0,602.2 1933.5,604.1 1934.1,606.0 1934.7,607.9 1935.2,609.8 1935.7,611.8 1936.3,613.7 1936.8,615.6 1937.3,617.6 1937.9,619.5 1938.4,621.4 1938.9,623.3 1939.5,625.3 1940.0,627.2 1940.5,629.1 1941.1,631.0 1941.6,633.0 1942.2,634.9 1942.8,636.8 1943.3,638.7 1943.9,640.6 1944.5,642.5 1945.1,644.4 1945.8,646.4 1946.4,648.3 1947.0,650.2 1947.6,652.1 1948.3,653.9 1948.9,655.8 1949.6,657.7 1950.2,659.6 1950.8,661.5 1951.5,663.4 1952.1,665.3 1952.8,667.2 1953.4,669.1 1954.1,671.0 1954.7,672.9 1955.3,674.8 1956.0,676.7 1956.6,678.6 1957.2,680.5 1957.9,682.4 1958.5,684.3 1959.1,686.2 1959.8,688.1 1960.4,690.0 1961.0,691.9 1961.7,693.8 1962.3,695.7 1962.9,697.6 1963.6,699.5 1964.2,701.4 1964.9,703.3 1965.5,705.1 1966.1,707.0 1966.8,708.9 1967.4,710.8 1968.0,712.7 1968.7,714.6 1969.3,716.5 1969.9,718.4 1970.5,720.3 1971.2,722.2 1971.8,724.1 1972.3,726.1 1972.9,728.0 1973.5,729.9 1974.1,731.8 1974.6,733.7 1975.2,735.6 1975.8,737.6 1976.3,739.5 1976.8,741.4 1977.4,743.3 1977.9,745.3 1978.4,747.2 1979.0,749.1 1979.5,751.1 1980.0,753.0 1980.6,754.9 1981.1,756.8 1981.6,758.8 1982.1,760.7 1982.7,762.6 1983.2,764.6 1983.7,766.5 1984.3,768.4 1984.8,770.3 1985.4,772.3 1985.9,774.2 1986.4,776.1 1987.0,778.1 1987.5,780.0 1988.0,781.9 1988.6,783.8 1989.1,785.8 1989.6,787.7 1990.1,789.6 1990.6,791.6 1991.2,793.5 1991.7,795.4 1992.2,797.4 1992.7,799.3 1993.2,801.2 1993.7,803.2 1994.1,805.1 1994.6,807.1 1995.1,809.0 1995.6,811.0 1996.0,812.9 1996.5,814.8 1997.0,816.8 1997.4,818.7 1997.9,820.7 1998.4,822.6 1998.8,824.6 1999.3,826.5 1999.8,828.5 2000.2,830.4 2000.7,832.4 2001.1,834.3 2001.6,836.3 2002.1,838.2 2002.5,840.2 2003.0,842.1 2003.5,844.0 2003.9,846.0 2004.4,847.9 2004.9,849.9 2005.4,851.8 2005.8,853.8 2006.3,855.7 2006.8,857.6 2007.3,859.6 2007.8,861.5 2008.3,863.5 2008.8,865.4 2009.3,867.3 2009.8,869.3 2010.2,871.2 2010.7,873.2 2011.2,875.1 2011.7,877.0 2012.2,879.0 2012.6,880.9 2013.1,882.9 2013.6,884.8 2014.0,886.8 2014.5,888.7 2014.9,890.7 2015.3,892.6 2015.7,894.6 2016.2,896.5 2016.6,898.5 2017.0,900.5 2017.4,902.4 2017.8,904.4 2018.2,906.3 2018.5,908.3 2018.9,910.3 2019.3,912.2 2019.7,914.2 2020.1,916.2 2020.4,918.1 2020.8,920.1 2021.2,922.1 2021.6,924.0 2022.0,926.0 2022.4,927.9 2022.8,929.9 2023.2,931.9 2023.5,933.8 2023.9,935.8 2024.3,937.8 2024.7,939.7 2025.1,941.7 2025.5,943.6 2025.9,945.6 2026.3,947.6 2026.7,949.5 2027.1,951.5 2027.5,953.4 2027.9,955.4 2028.3,957.4 2028.7,959.3 2029.1,961.3 2029.5,963.2 2029.9,965.2 2030.3,967.2 2030.7,969.1 2031.1,971.1 2031.5,973.1 2031.8,975.0 2032.2,977.0 2032.6,978.9 2033.0,980.9 2033.4,982.9 2033.8,984.8 2034.2,986.8 2034.6,988.7 2035.0,990.7 2035.4,992.7 2035.8,994.6 2036.1,996.6 2036.5,998.6 2036.9,1000.5 2037.3,1002.5 2037.7,1004.4 2038.1,1006.4 2038.5,1008.4 2038.9,1010.3 2039.3,1012.3 2039.7,1014.3 2040.1,1016.2 2040.5,1018.2 2040.9,1020.1 2041.3,1022.1 2041.7,1024.1 2042.1,1026.0 2042.5,1028.0 2042.9,1029.9 2043.3,1031.9 2043.7,1033.9 2044.0,1035.8 2044.4,1037.8 2044.8,1039.7 2045.2,1041.7 2045.6,1043.7 2046.0,1045.6 2046.4,1047.6 2046.8,1049.6 2047.1,1051.5 2047.5,1053.5 2047.9,1055.5 2048.2,1057.4 2048.6,1059.4 2048.9,1061.4 2049.3,1063.3 2049.6,1065.3 2049.9,1067.3 2050.3,1069.3 2050.6,1071.2 2050.9,1073.2 2051.1,1075.2 2051.4,1077.2 2051.7,1079.2 2051.9,1081.1 2052.2,1083.1 2052.4,1085.1 2052.6,1087.1 2052.8,1089.1 2053.0,1091.1 2053.2,1093.1 2053.4,1095.1 2053.6,1097.1 2053.7,1099.1 2053.9,1101.0 2054.1,1103.0 2054.2,1105.0 2054.4,1107.0 2054.6,1109.0 2054.8,1111.0 2054.9,1113.0 2055.1,1115.0 2055.3,1117.0 2055.5,1119.0 2055.7,1121.0 2055.9,1123.0 2056.1,1125.0 2056.3,1126.9 2056.4,1128.9 2056.6,1130.9 2056.8,1132.9 2057.0,1134.9 2057.2,1136.9 2057.4,1138.9 2057.6,1140.9 2057.8,1142.9 2058.0,1144.9 2058.2,1146.9 2058.4,1148.9 2058.6,1150.8 2058.8,1152.8 2059.0,1154.8 2059.2,1156.8 2059.4,1158.8 2059.6,1160.8 2059.9,1162.8 2060.1,1164.8 2060.3,1166.8 2060.5,1168.7 2060.7,1170.7 2061.0,1172.7 2061.2,1174.7 2061.4,1176.7 2061.7,1178.7 2061.9,1180.7 2062.1,1182.7 2062.4,1184.6 2062.6,1186.6 2062.8,1188.6 2063.1,1190.6 2063.3,1192.6 2063.6,1194.6 2063.8,1196.6 2064.1,1198.5 2064.4,1200.5 2064.6,1202.5 2064.9,1204.5 2065.2,1206.5 2065.5,1208.5 2065.7,1210.4 2066.0,1212.4 2066.3,1214.4 2066.6,1216.4 2066.9,1218.3 2067.2,1220.3 2067.5,1222.3 2067.8,1224.3 2068.1,1226.3 2068.4,1228.2 2068.7,1230.2 2069.0,1232.2 2069.4,1234.2 2069.7,1236.1 2070.0,1238.1 2070.3,1240.1 2070.7,1242.1 2071.0,1244.0 2071.4,1246.0 2071.7,1248.0 2072.0,1249.9 2072.4,1251.9 2072.7,1253.9 2073.1,1255.8 2073.5,1257.8 2073.8,1259.8 2074.2,1261.7 2074.6,1263.7 2075.0,1265.7 2075.4,1267.6 2075.8,1269.6 2076.2,1271.6 2076.6,1273.5 2077.0,1275.5 2077.4,1277.4 2077.8,1279.4 2078.2,1281.4 2078.6,1283.3 2079.0,1285.3 2079.4,1287.2 2079.8,1289.2 2080.3,1291.1 2080.7,1293.1 2081.1,1295.1 2081.5,1297.0 2081.9,1299.0 2082.4,1300.9 2082.8,1302.9 2083.2,1304.8 2083.6,1306.8 2084.1,1308.7 2084.5,1310.7 2084.9,1312.6 2085.4,1314.6 2085.8,1316.6 2086.2,1318.5 2086.7,1320.5 2087.1,1322.4 2087.5,1324.4 2088.0,1326.3 2088.4,1328.3 2088.9,1330.2 2089.3,1332.2 2089.8,1334.1 2090.2,1336.1 2090.7,1338.0 2091.1,1340.0 2091.6,1341.9 2092.0,1343.9 2092.5,1345.8 2092.9,1347.8 2093.4,1349.7 2093.8,1351.7 2094.3,1353.6 2094.8,1355.5 2095.2,1357.5 2095.7,1359.4 2096.2,1361.4 2096.6,1363.3 2097.1,1365.3 2097.6,1367.2 2098.1,1369.2 2098.5,1371.1 2099.0,1373.1 2099.5,1375.0 2099.9,1376.9 2100.4,1378.9 2100.9,1380.8 2101.4,1382.8 2101.8,1384.7 2102.3,1386.7 2102.8,1388.6 2103.3,1390.5 2103.7,1392.5 2104.2,1394.4 2104.7,1396.4 2105.2,1398.3 2105.7,1400.3 2106.2,1402.2 2106.6,1404.1 2107.1,1406.1 2107.6,1408.0 2108.1,1410.0 2108.6,1411.9 2109.1,1413.8 2109.6,1415.8 2110.0,1417.7 2110.5,1419.7 2111.0,1421.6 2111.4,1423.6 2111.9,1425.5 2112.3,1427.5 2112.7,1429.4 2113.2,1431.4 2113.6,1433.3 2114.0,1435.3 2114.4,1437.2 2114.7,1439.2 2115.1,1441.2 2115.5,1443.1 2115.8,1445.1 2116.1,1447.1 2116.4,1449.1 2116.8,1451.0 2117.1,1453.0 2117.3,1455.0 2117.6,1457.0 2117.9,1459.0 2118.2,1460.9 2118.4,1462.9 2118.7,1464.9 2119.0,1466.9 2119.2,1468.9 2119.5,1470.9 2119.7,1472.8 2120.0,1474.8 2120.2,1476.8 2120.5,1478.8 2120.7,1480.8 2121.0,1482.8 2121.2,1484.8 2121.5,1486.7 2121.8,1488.7 2122.0,1490.7 2122.3,1492.7 2122.6,1494.7 2122.8,1496.7 2123.1,1498.6 2123.4,1500.6 2123.6,1502.6 2123.9,1504.6 2124.2,1506.6 2124.4,1508.5 2124.7,1510.5 2125.0,1512.5 2125.2,1514.5 2125.5,1516.5 2125.8,1518.5 2126.1,1520.4 2126.3,1522.4 2126.6,1524.4 2126.9,1526.4 2127.2,1528.4 2127.5,1530.3 2127.8,1532.3 2128.1,1534.3 2128.4,1536.3 2128.7,1538.3 2129.0,1540.2 2129.4,1542.2 2129.7,1544.2 2130.0,1546.1 2130.4,1548.1 2130.7,1550.1 2131.1,1552.1 2131.4,1554.0 2131.8,1556.0 2132.1,1558.0 2132.5,1559.9 2132.8,1561.9 2133.2,1563.9 2133.5,1565.8 2133.9,1567.8 2134.2,1569.8 2134.6,1571.8 2134.9,1573.7 2135.2,1575.7 2135.5,1577.7 2135.8,1579.7 2136.1,1581.6 2136.4,1583.6 2136.7,1585.6 2137.0,1587.6 2137.2,1589.6 2137.5,1591.5 2137.8,1593.5 2138.0,1595.5 2138.3,1597.5 2138.5,1599.5 2138.8,1601.5 2139.0,1603.4 2139.3,1605.4 2139.5,1607.4 2139.8,1609.4 2140.0,1611.4 2140.3,1613.4 2140.5,1615.4 2140.8,1617.3 2141.0,1619.3 2141.3,1621.3 2141.5,1623.3" stroke="#c53443" stroke-width="7.5"/>
<polyline points="310.0,398.8 311.8,399.7 313.5,400.7 315.3,401.6 317.1,402.5 318.9,403.5 320.6,404.4 322.4,405.3 324.2,406.2 326.0,407.1 327.8,408.0 329.6,408.9 331.4,409.8 333.2,410.6 335.0,411.5 336.8,412.4 338.6,413.3 340.4,414.2 342.2,415.0 344.0,415.9 345.8,416.7 347.6,417.6 349.4,418.4 351.2,419.2 353.1,420.0 354.9,420.8 356.8,421.5 358.6,422.3 360.5,423.0 362.4,423.7 364.3,424.3 366.2,425.0 368.1,425.6 370.0,426.3 371.9,426.9 373.8,427.5 375.7,428.0 377.6,428.6 379.5,429.2 381.5,429.7 383.4,430.3 385.3,430.8 387.2,431.3 389.2,431.8 391.1,432.4 393.0,432.9 395.0,433.4 396.9,433.9 398.9,434.3 400.8,434.8 402.7,435.3 404.7,435.8 406.6,436.2 408.6,436.7 410.5,437.1 412.5,437.5 414.5,437.9 416.4,438.4 418.4,438.8 420.3,439.2 422.3,439.5 424.3,439.9 426.2,440.3 428.2,440.7 430.2,441.0 432.1,441.4 434.1,441.7 436.1,442.0 438.1,442.4 440.0,442.7 442.0,443.0 444.0,443.3 446.0,443.6 448.0,443.9 449.9,444.1 451.9,444.4 453.9,444.7 455.9,444.9 457.9,445.2 459.9,445.4 461.8,445.6 463.8,445.9 465.8,446.1 467.8,446.3 469.8,446.5 471.8,446.7 473.8,446.9 475.8,447.1 477.8,447.2 479.8,447.4 481.8,447.6 483.8,447.7 485.8,447.8 487.8,448.0 489.7,448.1 491.7,448.3 493.7,448.4 495.7,448.6 497.7,448.7 499.7,448.9 501.7,449.1 503.7,449.3 505.7,449.5 507.7,449.7 509.7,449.9 511.7,450.2 513.6,450.4 515.6,450.7 517.6,450.9 519.6,451.2 521.6,451.5 523.6,451.7 525.5,452.0 527.5,452.3 529.5,452.5 531.5,452.7 533.5,453.0 535.5,453.2 537.5,453.4 539.5,453.5 541.5,453.7 543.5,453.8 545.5,453.9 547.5,454.0 549.5,454.0 551.5,454.0 553.5,454.1 555.5,454.1 557.5,454.1 559.5,454.1 561.5,454.2 563.5,454.2 565.5,454.3 567.5,454.4 569.4,454.5 571.4,454.7 573.4,454.9 575.4,455.2 577.4,455.4 579.4,455.7 581.3,456.0 583.3,456.4 585.3,456.8 587.2,457.2 589.2,457.6 591.2,458.0 593.1,458.4 595.1,458.9 597.0,459.3 599.0,459.8 600.9,460.2 602.9,460.7 604.8,461.2 606.7,461.7 608.7,462.2 610.6,462.7 612.5,463.2 614.5,463.7 616.4,464.3 618.3,464.8 620.3,465.3 622.2,465.9 624.1,466.4 626.0,466.9 628.0,467.5 629.9,468.0 631.8,468.5 633.8,469.1 635.7,469.6 637.6,470.1 639.6,470.6 641.5,471.2 643.4,471.7 645.3,472.2 647.3,472.8 649.2,473.3 651.1,473.8 653.1,474.4 655.0,474.9 656.9,475.4 658.8,476.0 660.8,476.5 662.7,477.0 664.7,477.5 666.6,477.9 668.5,478.4 670.5,478.9 672.4,479.3 674.4,479.7 676.4,480.2 678.3,480.6 680.3,480.9 682.2,481.3 684.2,481.7 686.2,482.0 688.2,482.4 690.1,482.7 692.1,483.1 694.1,483.4 696.0,483.7 698.0,484.1 700.0,484.4 702.0,484.7 703.9,485.1 705.9,485.4 707.9,485.8 709.8,486.1 711.8,486.5 713.8,486.8 715.8,487.2 717.7,487.6 719.7,488.0 721.7,488.3 723.6,488.7 725.6,489.1 727.6,489.4 729.5,489.8 731.5,490.2 733.5,490.5 735.4,490.9 737.4,491.3 739.4,491.6 741.3,492.0 743.3,492.3 745.3,492.7 747.2,493.0 749.2,493.4 751.2,493.7 753.1,494.1 755.1,494.4 757.1,494.8 759.1,495.1 761.0,495.5 763.0,495.8 765.0,496.1 767.0,496.5 768.9,496.8 770.9,497.1 772.9,497.4 774.9,497.7 776.8,498.0 778.8,498.3 780.8,498.5 782.8,498.8 784.8,498.9 786.8,499.1 788.8,499.2 790.8,499.4 792.8,499.4 794.8,499.5 796.8,499.6 798.8,499.7 800.8,499.8 802.8,499.9 804.8,500.0 806.8,500.1 808.8,500.2 810.8,500.3 812.8,500.4 814.8,500.5 816.8,500.6 818.8,500.7 820.7,500.7 822.7,500.8 824.7,500.9 826.7,501.0 828.7,501.1 830.7,501.1 832.7,501.2 834.7,501.3 836.7,501.3 838.7,501.3 840.8,501.4 842.8,501.4 844.8,501.4 846.8,501.5 848.8,501.5 850.8,501.5 852.8,501.4 854.8,501.4 856.8,501.3 858.8,501.2 860.7,501.1 862.7,500.9 864.7,500.7 866.7,500.6 868.7,500.4 870.7,500.1 872.7,499.9 874.7,499.6 876.7,499.4 878.6,499.1 880.6,498.8 882.6,498.5 884.6,498.2 886.6,498.0 888.5,497.7 890.5,497.4 892.5,497.1 894.5,496.8 896.5,496.5 898.4,496.2 900.4,495.9 902.4,495.6 904.4,495.3 906.4,495.1 908.4,494.8 910.3,494.6 912.3,494.3 914.3,494.1 916.3,493.9 918.3,493.6 920.3,493.4 922.3,493.2 924.3,493.0 926.2,492.8 928.2,492.6 930.2,492.4 932.2,492.1 934.2,491.9 936.2,491.7 938.2,491.5 940.2,491.2 942.2,491.0 944.1,490.7 946.1,490.4 948.1,490.1 950.1,489.8 952.0,489.5 954.0,489.2 956.0,488.8 958.0,488.4 959.9,488.0 961.9,487.6 963.8,487.2 965.8,486.8 967.7,486.3 969.7,485.8 971.6,485.4 973.6,484.9 975.5,484.4 977.4,483.9 979.4,483.4 981.3,482.9 983.2,482.4 985.2,481.8 987.1,481.3 989.0,480.8 991.0,480.3 992.9,479.7 994.8,479.2 996.8,478.7 998.7,478.2 1000.6,477.7 1002.6,477.2 1004.5,476.7 1006.5,476.2 1008.4,475.7 1010.3,475.2 1012.3,474.7 1014.2,474.3 1016.2,473.8 1018.1,473.3 1020.1,472.9 1022.0,472.4 1024.0,471.9 1025.9,471.5 1027.8,471.0 1029.8,470.5 1031.7,470.1 1033.7,469.6 1035.6,469.1 1037.6,468.6 1039.5,468.1 1041.4,467.6 1043.4,467.1 1045.3,466.6 1047.2,466.0 1049.2,465.5 1051.1,464.9 1053.0,464.3 1054.9,463.8 1056.8,463.2 1058.7,462.5 1060.6,461.9 1062.5,461.3 1064.4,460.6 1066.3,459.9 1068.1,459.2 1070.0,458.5 1071.9,457.8 1073.8,457.1 1075.6,456.3 1077.5,455.6 1079.3,454.8 1081.2,454.0 1083.0,453.3 1084.9,452.5 1086.7,451.7 1088.5,450.9 1090.4,450.1 1092.2,449.3 1094.0,448.5 1095.9,447.7 1097.7,447.0 1099.6,446.2 1101.4,445.4 1103.2,444.6 1105.1,443.8 1106.9,443.0 1108.8,442.3 1110.6,441.5 1112.5,440.7 1114.3,440.0 1116.2,439.2 1118.0,438.5 1119.9,437.7 1121.8,437.0 1123.6,436.3 1125.5,435.5 1127.3,434.8 1129.2,434.1 1131.1,433.3 1132.9,432.6 1134.8,431.9 1136.7,431.1 1138.5,430.4 1140.4,429.7 1142.2,428.9 1144.1,428.2 1145.9,427.4 1147.8,426.7 1149.7,425.9 1151.5,425.2 1153.4,424.4 1155.2,423.6 1157.1,422.9 1158.9,422.1 1160.7,421.3 1162.6,420.5 1164.4,419.8 1166.3,419.0 1168.1,418.2 1169.9,417.4 1171.8,416.6 1173.6,415.8 1175.4,415.0 1177.3,414.2 1179.1,413.4 1180.9,412.5 1182.8,411.7 1184.6,410.9 1186.4,410.1 1188.2,409.3 1190.1,408.4 1191.9,407.6 1193.7,406.8 1195.5,405.9 1197.3,405.1 1199.2,404.3 1201.0,403.4 1202.8,402.6 1204.6,401.7 1206.4,400.9 1208.2,400.0 1210.0,399.2 1211.8,398.3 1213.6,397.4 1215.4,396.6 1217.2,395.7 1219.0,394.8 1220.8,393.9 1222.6,393.0 1224.4,392.1 1226.2,391.3 1228.0,390.4 1229.8,389.5 1231.6,388.6 1233.4,387.7 1235.2,386.8 1236.9,385.9 1238.7,385.0 1240.5,384.1 1242.3,383.2 1244.1,382.3 1245.9,381.3 1247.6,380.4 1249.4,379.5 1251.2,378.6 1253.0,377.7 1254.8,376.8 1256.5,375.8 1258.3,374.9 1260.1,374.0 1261.8,373.0 1263.6,372.0 1265.3,371.0 1267.0,370.0 1268.8,369.1 1270.5,368.1 1272.3,367.1 1274.1,366.2 1275.8,365.3 1277.6,364.4 1279.4,363.5 1281.2,362.7 1283.1,361.8 1284.9,361.0 1286.7,360.1 1288.5,359.3 1290.3,358.5 1292.1,357.6 1294.0,356.8 1295.8,356.0 1297.6,355.2 1299.4,354.4 1301.3,353.6 1303.1,352.8 1305.0,352.0 1306.8,351.2 1308.7,350.5 1310.5,349.7 1312.4,349.0 1314.3,348.3 1316.1,347.6 1318.0,346.9 1319.9,346.3 1321.8,345.6 1323.7,345.0 1325.6,344.4 1327.5,343.8 1329.4,343.2 1331.4,342.7 1333.3,342.1 1335.2,341.6 1337.2,341.1 1339.1,340.7 1341.1,340.2 1343.0,339.8 1345.0,339.4 1346.9,339.0 1348.9,338.7 1350.9,338.3 1352.8,337.9 1354.8,337.6 1356.8,337.2 1358.7,336.8 1360.7,336.4 1362.7,336.1 1364.6,335.7 1366.6,335.3 1368.6,334.9 1370.5,334.5 1372.5,334.1 1374.4,333.7 1376.4,333.3 1378.4,332.9 1380.3,332.5 1382.3,332.1 1384.2,331.7 1386.2,331.3 1388.2,330.8 1390.1,330.4 1392.1,330.0 1394.0,329.5 1396.0,329.1 1397.9,328.8 1399.9,328.5 1401.9,328.3 1403.9,328.1 1405.9,327.9 1407.9,327.8 1409.9,327.8 1411.9,327.7 1413.9,327.7 1415.9,327.7 1417.9,327.6 1419.9,327.6 1421.9,327.6 1423.9,327.6 1425.9,327.6 1427.9,327.7 1429.9,327.7 1431.9,327.7 1433.9,327.7 1435.9,327.7 1437.9,327.7 1439.9,327.7 1441.9,327.7 1443.9,327.7 1445.9,327.7 1447.9,327.7 1449.9,327.7 1451.9,327.8 1453.9,327.8 1455.9,327.8 1457.9,327.9 1459.9,327.9 1461.9,328.0 1463.9,328.0 1465.9,328.1 1467.9,328.2 1469.9,328.3 1471.9,328.3 1473.9,328.4 1475.9,328.6 1477.9,328.7 1479.9,328.8 1481.9,329.0 1483.8,329.2 1485.8,329.5 1487.8,329.7 1489.8,330.0 1491.8,330.3 1493.7,330.7 1495.7,331.0 1497.7,331.4 1499.6,331.8 1501.6,332.2 1503.6,332.6 1505.5,333.0 1507.5,333.5 1509.4,333.9 1511.3,334.4 1513.3,335.0 1515.2,335.5 1517.1,336.1 1519.0,336.8 1520.9,337.5 1522.7,338.2 1524.5,339.0 1526.3,339.9 1528.1,340.8 1529.9,341.7 1531.7,342.6 1533.4,343.6 1535.2,344.5 1537.0,345.4 1538.8,346.3 1540.6,347.2 1542.4,348.0 1544.2,348.9 1546.0,349.7 1547.9,350.5 1549.7,351.3 1551.5,352.1 1553.4,352.9 1555.2,353.7 1557.0,354.5 1558.9,355.3 1560.7,356.1 1562.5,357.0 1564.3,357.8 1566.2,358.6 1568.0,359.5 1569.8,360.3 1571.6,361.2 1573.4,362.1 1575.2,363.0 1576.9,363.9 1578.7,364.8 1580.5,365.8 1582.2,366.7 1584.0,367.7 1585.7,368.7 1587.4,369.7 1589.1,370.7 1590.8,371.8 1592.6,372.8 1594.2,373.9 1595.9,375.0 1597.6,376.0 1599.3,377.1 1601.0,378.2 1602.6,379.3 1604.3,380.4 1606.0,381.6 1607.6,382.7 1609.3,383.8 1610.9,385.0 1612.6,386.1 1614.2,387.3 1615.8,388.4 1617.4,389.6 1619.1,390.8 1620.7,392.0 1622.3,393.2 1623.9,394.4 1625.4,395.6 1627.0,396.9 1628.6,398.1 1630.1,399.4 1631.6,400.7 1633.1,402.0 1634.6,403.4 1636.1,404.7 1637.5,406.1 1639.0,407.5 1640.4,408.9 1641.9,410.2 1643.3,411.6 1644.7,413.0 1646.2,414.4 1647.6,415.8 1649.1,417.2 1650.5,418.6 1652.0,419.9 1653.5,421.3 1655.0,422.6 1656.5,423.9 1658.0,425.2 1659.5,426.5 1661.0,427.8 1662.5,429.1 1664.0,430.5 1665.6,431.8 1667.1,433.1 1668.6,434.4 1670.1,435.7 1671.6,437.0 1673.1,438.4 1674.5,439.7 1676.0,441.1 1677.4,442.5 1678.8,443.9 1680.2,445.4 1681.6,446.9 1682.9,448.3 1684.2,449.9 1685.5,451.4 1686.7,453.0 1687.9,454.5 1689.2,456.1 1690.4,457.7 1691.6,459.3 1692.8,460.9 1694.0,462.5 1695.2,464.1 1696.5,465.6 1697.7,467.2 1699.0,468.7 1700.3,470.3 1701.6,471.8 1703.0,473.2 1704.3,474.7 1705.7,476.2 1707.1,477.6 1708.5,479.1 1709.8,480.5 1711.2,482.0 1712.6,483.4 1714.0,484.8 1715.4,486.3 1716.8,487.7 1718.1,489.2 1719.5,490.7 1720.8,492.1 1722.2,493.6 1723.5,495.1 1724.8,496.7 1726.0,498.2 1727.3,499.8 1728.5,501.4 1729.7,503.0 1730.9,504.6 1732.0,506.2 1733.2,507.9 1734.3,509.5 1735.4,511.2 1736.5,512.9 1737.6,514.5 1738.7,516.2 1739.8,517.9 1741.0,519.5 1742.1,521.2 1743.2,522.8 1744.4,524.5 1745.5,526.1 1746.7,527.7 1747.9,529.3 1749.0,531.0 1750.2,532.6 1751.4,534.2 1752.6,535.8 1753.8,537.4 1754.9,539.0 1756.1,540.7 1757.3,542.3 1758.4,543.9 1759.5,545.6 1760.7,547.2 1761.8,548.9 1762.9,550.6 1764.0,552.3 1765.0,554.0 1766.1,555.7 1767.1,557.4 1768.1,559.1 1769.1,560.8 1770.1,562.6 1771.1,564.3 1772.0,566.1 1773.0,567.8 1774.0,569.6 1775.0,571.3 1775.9,573.1 1776.9,574.8 1777.9,576.5 1778.9,578.3 1779.9,580.0 1780.9,581.7 1781.9,583.5 1783.0,585.2 1784.0,586.9 1785.1,588.6 1786.1,590.3 1787.1,592.0 1788.1,593.7 1789.1,595.5 1790.1,597.2 1791.1,599.0 1792.0,600.7 1792.9,602.5 1793.8,604.3 1794.7,606.1 1795.5,607.9 1796.3,609.8 1797.2,611.6 1798.0,613.4 1798.8,615.2 1799.6,617.1 1800.3,618.9 1801.1,620.8 1801.9,622.6 1802.7,624.5 1803.5,626.3 1804.3,628.1 1805.1,630.0 1805.9,631.8 1806.7,633.6 1807.5,635.4 1808.3,637.3 1809.2,639.1 1810.0,640.9 1810.9,642.7 1811.7,644.5 1812.6,646.3 1813.4,648.1 1814.3,650.0 1815.1,651.8 1816.0,653.6 1816.8,655.4 1817.7,657.2 1818.6,659.0 1819.4,660.8 1820.3,662.6 1821.1,664.4 1822.0,666.2 1822.8,668.0 1823.7,669.9 1824.5,671.7 1825.4,673.5 1826.2,675.3 1827.1,677.1 1828.0,678.9 1828.8,680.7 1829.7,682.5 1830.5,684.3 1831.3,686.2 1832.2,688.0 1833.0,689.8 1833.8,691.6 1834.7,693.4 1835.5,695.3 1836.3,697.1 1837.1,698.9 1837.9,700.8 1838.6,702.6 1839.4,704.5 1840.2,706.3 1840.9,708.2 1841.7,710.0 1842.4,711.9 1843.2,713.7 1843.9,715.6 1844.6,717.5 1845.4,719.3 1846.1,721.2 1846.9,723.0 1847.6,724.9 1848.3,726.8 1849.1,728.6 1849.8,730.5 1850.6,732.3 1851.3,734.2 1852.0,736.1 1852.8,737.9 1853.5,739.8 1854.3,741.6 1855.0,743.5 1855.7,745.4 1856.5,747.2 1857.2,749.1 1858.0,750.9 1858.7,752.8 1859.5,754.6 1860.2,756.5 1861.0,758.4 1861.7,760.2 1862.5,762.1 1863.2,763.9 1864.0,765.8 1864.7,767.6 1865.5,769.5 1866.3,771.3 1867.0,773.2 1867.8,775.0 1868.5,776.9 1869.3,778.7 1870.1,780.6 1870.8,782.4 1871.6,784.3 1872.3,786.1 1873.1,788.0 1873.8,789.9 1874.5,791.7 1875.3,793.6 1876.0,795.4 1876.7,797.3 1877.4,799.2 1878.1,801.1 1878.8,802.9 1879.5,804.8 1880.2,806.7 1880.9,808.6 1881.6,810.4 1882.3,812.3 1883.0,814.2 1883.6,816.1 1884.3,818.0 1885.0,819.9 1885.6,821.7 1886.3,823.6 1886.9,825.5 1887.6,827.4 1888.2,829.3 1888.9,831.2 1889.5,833.1 1890.1,835.0 1890.7,836.9 1891.4,838.8 1892.0,840.7 1892.6,842.6 1893.2,844.5 1893.8,846.5 1894.4,848.4 1895.0,850.3 1895.5,852.2 1896.1,854.1 1896.7,856.0 1897.3,857.9 1897.8,859.9 1898.4,861.8 1899.0,863.7 1899.6,865.6 1900.1,867.5 1900.7,869.5 1901.3,871.4 1901.8,873.3 1902.4,875.2 1903.0,877.1 1903.5,879.0 1904.1,881.0 1904.7,882.9 1905.3,884.8 1905.9,886.7 1906.5,888.6 1907.0,890.5 1907.6,892.4 1908.2,894.4 1908.8,896.3 1909.4,898.2 1910.0,900.1 1910.5,902.0 1911.1,903.9 1911.7,905.8 1912.2,907.8 1912.8,909.7 1913.4,911.6 1913.9,913.5 1914.4,915.5 1914.9,917.4 1915.5,919.3 1916.0,921.3 1916.5,923.2 1916.9,925.2 1917.4,927.1 1917.9,929.0 1918.3,931.0 1918.8,932.9 1919.2,934.9 1919.7,936.8 1920.1,938.8 1920.6,940.7 1921.0,942.7 1921.4,944.6 1921.9,946.6 1922.3,948.6 1922.7,950.5 1923.2,952.5 1923.6,954.4 1924.1,956.4 1924.5,958.3 1925.0,960.3 1925.4,962.2 1925.9,964.2 1926.3,966.1 1926.8,968.1 1927.2,970.0 1927.7,972.0 1928.1,973.9 1928.6,975.9 1929.0,977.8 1929.5,979.8 1930.0,981.7 1930.4,983.7 1930.9,985.6 1931.3,987.6 1931.8,989.5 1932.2,991.4 1932.7,993.4 1933.2,995.3 1933.6,997.3 1934.1,999.2 1934.5,1001.2 1935.0,1003.1 1935.4,1005.1 1935.9,1007.0 1936.3,1009.0 1936.8,1010.9 1937.2,1012.9 1937.7,1014.8 1938.1,1016.8 1938.6,1018.7 1939.0,1020.7 1939.5,1022.6 1939.9,1024.6 1940.4,1026.5 1940.8,1028.5 1941.3,1030.4 1941.7,1032.4 1942.2,1034.3 1942.6,1036.3 1943.1,1038.2 1943.6,1040.2 1944.0,1042.1 1944.5,1044.1 1944.9,1046.0 1945.4,1048.0 1945.8,1049.9 1946.3,1051.9 1946.7,1053.8 1947.2,1055.8 1947.6,1057.7 1948.1,1059.7 1948.6,1061.6 1949.0,1063.6 1949.5,1065.5 1949.9,1067.5 1950.4,1069.4 1950.9,1071.4 1951.3,1073.3 1951.8,1075.3 1952.3,1077.2 1952.7,1079.1 1953.2,1081.1 1953.7,1083.0 1954.2,1085.0 1954.6,1086.9 1955.1,1088.9 1955.6,1090.8 1956.1,1092.7 1956.6,1094.7 1957.0,1096.6 1957.5,1098.6 1958.0,1100.5 1958.5,1102.5 1958.9,1104.4 1959.4,1106.4 1959.9,1108.3 1960.3,1110.3 1960.7,1112.2 1961.2,1114.2 1961.6,1116.1 1962.0,1118.1 1962.5,1120.0 1962.9,1122.0 1963.3,1123.9 1963.7,1125.9 1964.1,1127.9 1964.5,1129.8 1964.9,1131.8 1965.3,1133.7 1965.6,1135.7 1966.0,1137.7 1966.4,1139.6 1966.8,1141.6 1967.2,1143.6 1967.6,1145.5 1968.0,1147.5 1968.3,1149.5 1968.7,1151.4 1969.1,1153.4 1969.6,1155.3 1970.0,1157.3 1970.4,1159.3 1970.8,1161.2 1971.2,1163.2 1971.7,1165.1 1972.1,1167.1 1972.6,1169.0 1973.0,1171.0 1973.5,1172.9 1973.9,1174.9 1974.4,1176.8 1974.8,1178.8 1975.3,1180.7 1975.8,1182.6 1976.2,1184.6 1976.7,1186.5 1977.2,1188.5 1977.7,1190.4 1978.1,1192.4 1978.6,1194.3 1979.1,1196.3 1979.6,1198.2 1980.1,1200.1 1980.5,1202.1 1981.0,1204.0 1981.5,1206.0 1982.0,1207.9 1982.4,1209.9 1982.9,1211.8 1983.4,1213.8 1983.9,1215.7 1984.3,1217.6 1984.8,1219.6 1985.3,1221.5 1985.8,1223.5 1986.3,1225.4 1986.7,1227.4 1987.2,1229.3 1987.7,1231.2 1988.1,1233.2 1988.6,1235.1 1989.1,1237.1 1989.5,1239.0 1990.0,1241.0 1990.5,1242.9 1990.9,1244.9 1991.3,1246.8 1991.8,1248.8 1992.2,1250.7 1992.6,1252.7 1993.0,1254.6 1993.4,1256.6 1993.8,1258.6 1994.2,1260.5 1994.6,1262.5 1995.0,1264.5 1995.4,1266.4 1995.7,1268.4 1996.1,1270.4 1996.4,1272.3 1996.8,1274.3 1997.1,1276.3 1997.5,1278.2 1997.8,1280.2 1998.2,1282.2 1998.5,1284.2 1998.8,1286.1 1999.2,1288.1 1999.5,1290.1 1999.8,1292.1 2000.2,1294.0 2000.5,1296.0 2000.8,1298.0 2001.1,1300.0 2001.5,1301.9 2001.8,1303.9 2002.1,1305.9 2002.4,1307.9 2002.7,1309.8 2003.1,1311.8 2003.4,1313.8 2003.7,1315.8 2004.0,1317.7 2004.3,1319.7 2004.7,1321.7 2005.0,1323.7 2005.3,1325.6 2005.6,1327.6 2005.9,1329.6 2006.3,1331.6 2006.6,1333.5 2006.9,1335.5 2007.3,1337.5 2007.6,1339.5 2007.9,1341.4 2008.3,1343.4 2008.6,1345.4 2009.0,1347.3 2009.3,1349.3 2009.7,1351.3 2010.0,1353.2 2010.4,1355.2 2010.7,1357.2 2011.1,1359.2 2011.5,1361.1 2011.8,1363.1 2012.2,1365.1 2012.5,1367.0 2012.9,1369.0 2013.2,1371.0 2013.6,1372.9 2014.0,1374.9 2014.3,1376.9 2014.7,1378.8 2015.0,1380.8 2015.4,1382.8 2015.7,1384.8 2016.0,1386.7 2016.4,1388.7 2016.7,1390.7 2017.1,1392.7 2017.4,1394.6 2017.7,1396.6 2018.0,1398.6 2018.4,1400.5 2018.7,1402.5 2019.0,1404.5 2019.3,1406.5 2019.7,1408.4 2020.0,1410.4 2020.3,1412.4 2020.6,1414.4 2020.9,1416.4 2021.2,1418.3 2021.6,1420.3 2021.9,1422.3 2022.2,1424.3 2022.5,1426.2 2022.8,1428.2 2023.1,1430.2 2023.4,1432.2 2023.8,1434.1 2024.1,1436.1 2024.4,1438.1 2024.7,1440.1 2025.0,1442.0 2025.3,1444.0 2025.6,1446.0 2025.9,1448.0 2026.3,1450.0 2026.6,1451.9 2026.9,1453.9 2027.2,1455.9 2027.5,1457.9 2027.8,1459.8 2028.1,1461.8 2028.4,1463.8 2028.7,1465.8 2029.1,1467.7 2029.4,1469.7 2029.7,1471.7 2030.0,1473.7 2030.3,1475.6 2030.6,1477.6 2031.0,1479.6 2031.3,1481.6 2031.6,1483.5 2031.9,1485.5 2032.3,1487.5 2032.6,1489.5 2032.9,1491.4 2033.3,1493.4 2033.6,1495.4 2034.0,1497.4 2034.3,1499.3 2034.6,1501.3 2035.0,1503.3 2035.3,1505.2 2035.7,1507.2 2036.0,1509.2 2036.4,1511.2 2036.7,1513.1 2037.1,1515.1 2037.4,1517.1 2037.8,1519.0 2038.2,1521.0 2038.5,1523.0 2038.9,1524.9 2039.2,1526.9 2039.6,1528.9 2040.0,1530.8 2040.3,1532.8 2040.7,1534.8 2041.1,1536.7 2041.5,1538.7 2041.9,1540.7 2042.2,1542.6 2042.6,1544.6 2043.0,1546.6 2043.4,1548.5 2043.8,1550.5 2044.2,1552.4 2044.6,1554.4 2045.0,1556.4 2045.4,1558.3 2045.8,1560.3 2046.2,1562.2 2046.6,1564.2 2047.0,1566.2 2047.4,1568.1 2047.8,1570.1 2048.2,1572.1 2048.5,1574.0 2048.9,1576.0 2049.3,1578.0 2049.7,1579.9 2050.0,1581.9 2050.4,1583.9 2050.7,1585.8 2051.1,1587.8 2051.4,1589.8 2051.8,1591.7 2052.1,1593.7 2052.5,1595.7 2052.8,1597.7 2053.2,1599.6 2053.5,1601.6 2053.8,1603.6 2054.2,1605.5 2054.5,1607.5 2054.9,1609.5 2055.2,1611.5 2055.5,1613.4 2055.9,1615.4 2056.2,1617.4 2056.5,1619.4 2056.9,1621.3 2057.2,1623.3" stroke="#2673d8" stroke-width="7.5"/>
<polyline points="310.0,266.9 311.7,268.0 313.3,269.1 315.0,270.2 316.7,271.3 318.4,272.4 320.1,273.4 321.7,274.5 323.4,275.6 325.1,276.6 326.8,277.7 328.5,278.7 330.3,279.8 332.0,280.8 333.7,281.9 335.4,282.9 337.1,283.9 338.8,285.0 340.5,286.0 342.2,287.0 343.9,288.1 345.7,289.1 347.4,290.1 349.1,291.1 350.9,292.1 352.6,293.0 354.4,294.0 356.1,294.9 357.9,295.9 359.7,296.8 361.5,297.6 363.3,298.5 365.1,299.3 367.0,300.1 368.8,300.9 370.7,301.6 372.5,302.3 374.4,303.0 376.3,303.7 378.2,304.4 380.1,305.0 381.9,305.7 383.8,306.3 385.8,306.9 387.7,307.5 389.6,308.1 391.5,308.7 393.4,309.3 395.3,309.9 397.2,310.5 399.1,311.1 401.0,311.7 402.9,312.3 404.8,312.9 406.8,313.5 408.7,314.0 410.6,314.6 412.5,315.2 414.4,315.7 416.4,316.2 418.3,316.7 420.2,317.2 422.2,317.7 424.1,318.1 426.1,318.6 428.0,319.0 430.0,319.3 432.0,319.6 434.0,319.9 435.9,320.2 437.9,320.4 439.9,320.6 441.9,320.7 443.9,320.8 445.9,320.9 447.9,321.0 449.9,321.1 451.9,321.1 453.9,321.2 455.9,321.2 457.9,321.3 459.9,321.3 461.9,321.4 463.9,321.5 465.9,321.6 467.9,321.7 469.9,321.9 471.9,322.1 473.9,322.3 475.9,322.5 477.8,322.7 479.8,323.0 481.8,323.2 483.8,323.5 485.8,323.7 487.8,324.0 489.7,324.2 491.7,324.5 493.7,324.7 495.7,324.9 497.7,325.1 499.7,325.3 501.7,325.5 503.7,325.7 505.7,325.8 507.7,326.0 509.7,326.1 511.7,326.2 513.7,326.3 515.6,326.4 517.6,326.4 519.6,326.5 521.6,326.6 523.6,326.6 525.6,326.7 527.6,326.7 529.6,326.8 531.6,326.8 533.6,326.8 535.6,326.9 537.6,326.9 539.6,327.0 541.6,327.0 543.6,327.0 545.6,327.0 547.6,327.0 549.6,327.1 551.6,327.1 553.6,327.1 555.6,327.1 557.6,327.2 559.6,327.3 561.6,327.4 563.6,327.5 565.6,327.7 567.6,327.9 569.6,328.1 571.6,328.3 573.6,328.6 575.6,328.8 577.5,329.1 579.5,329.3 581.5,329.6 583.5,329.9 585.5,330.2 587.4,330.5 589.4,330.7 591.4,331.0 593.4,331.3 595.4,331.6 597.3,331.9 599.3,332.1 601.3,332.4 603.3,332.7 605.3,333.0 607.2,333.3 609.2,333.6 611.2,333.9 613.2,334.2 615.2,334.4 617.1,334.7 619.1,335.0 621.1,335.3 623.1,335.6 625.1,335.8 627.0,336.1 629.0,336.3 631.0,336.5 633.0,336.7 635.0,336.9 637.0,337.1 639.0,337.2 641.0,337.3 643.0,337.4 645.0,337.5 647.0,337.6 649.0,337.7 651.0,337.7 653.0,337.7 655.0,337.8 657.0,337.8 659.0,337.8 661.0,337.8 663.0,337.8 665.0,337.8 667.0,337.8 669.0,337.8 671.0,337.8 673.0,337.8 675.0,337.8 677.0,337.8 679.0,337.8 681.0,337.8 683.0,337.8 685.0,337.8 687.0,337.8 689.0,337.8 691.0,337.8 693.0,337.7 695.0,337.7 697.0,337.7 699.0,337.6 701.0,337.6 703.0,337.5 705.0,337.5 707.0,337.4 709.0,337.3 711.0,337.2 713.0,337.1 715.0,336.9 717.0,336.8 719.0,336.6 720.9,336.4 722.9,336.1 724.9,335.9 726.9,335.6 728.9,335.3 730.8,335.0 732.8,334.7 734.8,334.4 736.8,334.1 738.8,333.8 740.7,333.6 742.7,333.3 744.7,333.0 746.7,332.8 748.7,332.5 750.7,332.3 752.6,332.1 754.6,331.8 756.6,331.6 758.6,331.4 760.6,331.2 762.6,330.9 764.6,330.7 766.6,330.5 768.6,330.3 770.5,330.1 772.5,329.8 774.5,329.6 776.5,329.4 778.5,329.2 780.5,329.0 782.5,328.8 784.5,328.6 786.4,328.4 788.4,328.2 790.4,327.9 792.4,327.7 794.4,327.4 796.4,327.1 798.3,326.7 800.3,326.4 802.3,326.0 804.2,325.6 806.2,325.2 808.1,324.8 810.1,324.3 812.0,323.9 814.0,323.4 815.9,323.0 817.9,322.5 819.8,322.1 821.8,321.6 823.7,321.2 825.7,320.7 827.6,320.3 829.6,319.8 831.5,319.4 833.5,318.9 835.4,318.5 837.4,318.1 839.3,317.6 841.3,317.2 843.2,316.7 845.2,316.3 847.1,315.9 849.1,315.5 851.1,315.1 853.0,314.7 855.0,314.3 856.9,313.9 858.9,313.5 860.9,313.1 862.8,312.7 864.8,312.3 866.7,311.9 868.7,311.6 870.7,311.2 872.6,310.8 874.6,310.4 876.6,310.0 878.5,309.7 880.5,309.3 882.5,308.9 884.4,308.5 886.4,308.1 888.3,307.7 890.3,307.3 892.3,306.9 894.2,306.5 896.2,306.1 898.1,305.7 900.1,305.2 902.0,304.8 904.0,304.4 905.9,304.0 907.9,303.5 909.9,303.1 911.8,302.6 913.8,302.2 915.7,301.8 917.7,301.3 919.6,300.9 921.6,300.4 923.5,300.0 925.4,299.5 927.4,299.1 929.3,298.6 931.3,298.2 933.2,297.7 935.2,297.3 937.1,296.8 939.1,296.4 941.0,295.9 943.0,295.5 944.9,295.0 946.9,294.6 948.8,294.1 950.8,293.7 952.7,293.3 954.7,292.8 956.6,292.4 958.6,291.9 960.5,291.5 962.5,291.0 964.4,290.6 966.4,290.2 968.4,289.7 970.3,289.3 972.3,288.8 974.2,288.4 976.2,288.0 978.1,287.5 980.1,287.1 982.0,286.7 984.0,286.2 985.9,285.8 987.9,285.4 989.8,284.9 991.8,284.5 993.7,284.1 995.7,283.7 997.7,283.3 999.6,282.9 1001.6,282.5 1003.5,282.1 1005.5,281.7 1007.5,281.3 1009.4,280.9 1011.4,280.5 1013.3,280.1 1015.3,279.8 1017.3,279.4 1019.2,279.0 1021.2,278.6 1023.2,278.2 1025.1,277.8 1027.1,277.4 1029.0,276.9 1030.9,276.5 1032.8,275.9 1034.7,275.4 1036.6,274.8 1038.5,274.1 1040.4,273.5 1042.3,272.8 1044.2,272.2 1046.1,271.5 1047.9,270.8 1049.8,270.2 1051.7,269.5 1053.6,268.8 1055.5,268.1 1057.4,267.5 1059.2,266.8 1061.1,266.1 1063.0,265.5 1064.9,264.8 1066.8,264.1 1068.7,263.5 1070.6,262.8 1072.5,262.2 1074.4,261.6 1076.3,260.9 1078.2,260.3 1080.1,259.7 1082.0,259.1 1083.9,258.5 1085.8,257.9 1087.7,257.3 1089.6,256.7 1091.5,256.1 1093.4,255.4 1095.3,254.8 1097.2,254.2 1099.1,253.5 1101.0,252.9 1102.9,252.2 1104.7,251.4 1106.6,250.7 1108.4,250.0 1110.3,249.2 1112.1,248.4 1114.0,247.6 1115.8,246.8 1117.6,246.0 1119.5,245.2 1121.3,244.4 1123.1,243.6 1124.9,242.8 1126.8,242.0 1128.6,241.2 1130.4,240.4 1132.3,239.6 1134.2,238.9 1136.0,238.2 1137.9,237.5 1139.8,236.8 1141.7,236.2 1143.6,235.5 1145.5,234.9 1147.4,234.3 1149.3,233.7 1151.2,233.1 1153.1,232.5 1155.0,231.9 1156.9,231.2 1158.8,230.6 1160.6,229.9 1162.5,229.2 1164.4,228.5 1166.3,227.8 1168.1,227.1 1170.0,226.3 1171.9,225.6 1173.7,224.9 1175.6,224.2 1177.5,223.5 1179.3,222.7 1181.2,222.0 1183.0,221.2 1184.9,220.4 1186.7,219.6 1188.5,218.8 1190.4,218.0 1192.2,217.3 1194.1,216.5 1195.9,215.9 1197.8,215.2 1199.7,214.6 1201.7,214.0 1203.6,213.5 1205.5,213.0 1207.4,212.5 1209.4,212.0 1211.3,211.5 1213.3,211.1 1215.2,210.6 1217.2,210.2 1219.1,209.8 1221.1,209.4 1223.1,209.0 1225.0,208.6 1227.0,208.2 1229.0,207.9 1230.9,207.5 1232.9,207.2 1234.9,206.8 1236.8,206.5 1238.8,206.2 1240.8,205.9 1242.8,205.6 1244.7,205.3 1246.7,205.0 1248.7,204.7 1250.7,204.4 1252.7,204.2 1254.7,203.9 1256.6,203.7 1258.6,203.4 1260.6,203.2 1262.6,203.0 1264.6,202.7 1266.6,202.5 1268.6,202.3 1270.6,202.1 1272.5,201.9 1274.5,201.7 1276.5,201.6 1278.5,201.4 1280.5,201.3 1282.5,201.2 1284.5,201.1 1286.5,201.1 1288.5,201.1 1290.5,201.1 1292.5,201.2 1294.5,201.3 1296.5,201.5 1298.5,201.7 1300.4,202.0 1302.4,202.3 1304.4,202.6 1306.4,203.0 1308.3,203.3 1310.3,203.7 1312.2,204.1 1314.2,204.5 1316.2,205.0 1318.1,205.4 1320.1,205.9 1322.0,206.3 1323.9,206.8 1325.9,207.4 1327.8,207.9 1329.7,208.5 1331.6,209.1 1333.5,209.7 1335.4,210.4 1337.3,211.1 1339.1,211.8 1341.0,212.6 1342.8,213.4 1344.6,214.2 1346.4,215.1 1348.2,216.0 1350.0,216.9 1351.7,217.8 1353.5,218.8 1355.2,219.8 1357.0,220.8 1358.7,221.8 1360.4,222.8 1362.1,223.8 1363.9,224.9 1365.6,225.9 1367.3,226.9 1369.0,228.0 1370.7,229.1 1372.4,230.1 1374.1,231.2 1375.8,232.2 1377.5,233.3 1379.2,234.3 1380.9,235.4 1382.5,236.5 1384.2,237.5 1385.9,238.6 1387.6,239.7 1389.2,240.9 1390.9,242.0 1392.5,243.2 1394.1,244.4 1395.6,245.6 1397.2,246.9 1398.7,248.2 1400.2,249.5 1401.7,250.9 1403.1,252.2 1404.5,253.7 1405.9,255.1 1407.3,256.6 1408.6,258.0 1409.9,259.5 1411.3,261.0 1412.6,262.6 1413.9,264.1 1415.2,265.6 1416.5,267.1 1417.8,268.6 1419.1,270.1 1420.4,271.6 1421.7,273.1 1423.1,274.6 1424.4,276.1 1425.8,277.6 1427.1,279.0 1428.5,280.5 1429.8,282.0 1431.2,283.4 1432.6,284.9 1433.9,286.4 1435.3,287.8 1436.7,289.3 1438.0,290.8 1439.4,292.2 1440.7,293.7 1442.1,295.2 1443.4,296.7 1444.7,298.2 1446.1,299.7 1447.4,301.2 1448.7,302.7 1450.0,304.2 1451.4,305.7 1452.7,307.2 1454.0,308.7 1455.2,310.2 1456.5,311.8 1457.8,313.3 1459.0,314.9 1460.2,316.5 1461.5,318.1 1462.7,319.7 1463.8,321.3 1465.0,322.9 1466.2,324.5 1467.3,326.2 1468.4,327.8 1469.6,329.5 1470.7,331.1 1471.8,332.8 1472.9,334.5 1474.0,336.2 1475.1,337.8 1476.1,339.5 1477.2,341.2 1478.3,342.9 1479.3,344.6 1480.4,346.3 1481.4,348.0 1482.4,349.7 1483.5,351.5 1484.5,353.2 1485.5,354.9 1486.5,356.6 1487.5,358.4 1488.5,360.1 1489.5,361.8 1490.5,363.6 1491.5,365.3 1492.5,367.0 1493.5,368.7 1494.5,370.5 1495.6,372.2 1496.6,373.9 1497.6,375.6 1498.7,377.3 1499.8,379.0 1500.9,380.7 1502.0,382.3 1503.0,384.0 1504.1,385.7 1505.2,387.4 1506.3,389.1 1507.3,390.8 1508.3,392.5 1509.3,394.2 1510.4,396.0 1511.3,397.7 1512.3,399.4 1513.3,401.2 1514.3,402.9 1515.2,404.7 1516.2,406.4 1517.1,408.2 1518.0,410.0 1518.9,411.8 1519.8,413.6 1520.7,415.4 1521.6,417.2 1522.4,419.0 1523.3,420.8 1524.1,422.6 1524.9,424.4 1525.7,426.3 1526.5,428.1 1527.2,430.0 1528.0,431.8 1528.8,433.7 1529.5,435.5 1530.3,437.4 1531.0,439.2 1531.8,441.1 1532.6,442.9 1533.3,444.8 1534.1,446.6 1534.9,448.5 1535.6,450.3 1536.4,452.1 1537.2,454.0 1538.0,455.8 1538.8,457.6 1539.6,459.5 1540.5,461.3 1541.3,463.1 1542.2,464.9 1543.1,466.7 1544.0,468.5 1544.9,470.3 1545.8,472.1 1546.7,473.8 1547.6,475.6 1548.5,477.4 1549.4,479.2 1550.3,481.0 1551.2,482.7 1552.2,484.5 1553.1,486.3 1553.9,488.1 1554.8,489.9 1555.7,491.7 1556.6,493.5 1557.4,495.3 1558.2,497.1 1559.1,498.9 1559.9,500.8 1560.7,502.6 1561.5,504.4 1562.3,506.3 1563.0,508.1 1563.8,510.0 1564.6,511.8 1565.3,513.7 1566.1,515.5 1566.8,517.4 1567.6,519.2 1568.3,521.1 1569.0,523.0 1569.7,524.8 1570.5,526.7 1571.2,528.6 1571.9,530.4 1572.6,532.3 1573.3,534.2 1574.0,536.1 1574.7,537.9 1575.3,539.8 1576.0,541.7 1576.7,543.6 1577.4,545.5 1578.0,547.4 1578.7,549.2 1579.3,551.1 1580.0,553.0 1580.6,554.9 1581.3,556.8 1581.9,558.7 1582.6,560.6 1583.2,562.5 1583.8,564.4 1584.5,566.3 1585.1,568.2 1585.7,570.1 1586.3,572.0 1586.9,573.9 1587.5,575.8 1588.1,577.7 1588.7,579.6 1589.3,581.6 1589.9,583.5 1590.4,585.4 1591.0,587.3 1591.6,589.2 1592.2,591.1 1592.7,593.1 1593.3,595.0 1593.8,596.9 1594.4,598.8 1595.0,600.7 1595.5,602.7 1596.1,604.6 1596.6,606.5 1597.2,608.4 1597.7,610.3 1598.3,612.3 1598.8,614.2 1599.3,616.1 1599.9,618.1 1600.4,620.0 1600.9,621.9 1601.5,623.8 1602.0,625.8 1602.5,627.7 1603.1,629.6 1603.6,631.6 1604.1,633.5 1604.6,635.4 1605.1,637.3 1605.7,639.3 1606.2,641.2 1606.7,643.1 1607.2,645.1 1607.8,647.0 1608.3,648.9 1608.8,650.9 1609.3,652.8 1609.9,654.7 1610.4,656.7 1610.9,658.6 1611.4,660.5 1611.9,662.4 1612.5,664.4 1613.0,666.3 1613.5,668.2 1614.0,670.2 1614.6,672.1 1615.1,674.0 1615.6,676.0 1616.2,677.9 1616.7,679.8 1617.3,681.7 1617.8,683.6 1618.4,685.6 1619.0,687.5 1619.6,689.4 1620.2,691.3 1620.8,693.2 1621.4,695.1 1622.0,697.0 1622.6,698.9 1623.3,700.8 1623.9,702.7 1624.5,704.6 1625.2,706.5 1625.8,708.4 1626.5,710.3 1627.1,712.2 1627.8,714.1 1628.4,715.9 1629.1,717.8 1629.7,719.7 1630.4,721.6 1631.1,723.5 1631.7,725.4 1632.4,727.3 1633.0,729.2 1633.6,731.1 1634.3,733.0 1634.9,734.9 1635.5,736.8 1636.1,738.7 1636.7,740.6 1637.3,742.5 1637.8,744.4 1638.3,746.4 1638.9,748.3 1639.4,750.2 1639.9,752.2 1640.3,754.1 1640.8,756.0 1641.2,758.0 1641.7,759.9 1642.1,761.9 1642.5,763.9 1642.9,765.8 1643.3,767.8 1643.7,769.7 1644.1,771.7 1644.5,773.7 1644.9,775.6 1645.3,777.6 1645.7,779.5 1646.1,781.5 1646.5,783.5 1646.9,785.4 1647.3,787.4 1647.7,789.3 1648.1,791.3 1648.5,793.3 1648.9,795.2 1649.3,797.2 1649.8,799.1 1650.2,801.1 1650.7,803.0 1651.1,805.0 1651.6,806.9 1652.1,808.9 1652.6,810.8 1653.0,812.7 1653.5,814.7 1654.0,816.6 1654.5,818.5 1655.0,820.5 1655.5,822.4 1656.0,824.4 1656.5,826.3 1657.0,828.2 1657.5,830.2 1658.0,832.1 1658.4,834.1 1658.9,836.0 1659.4,838.0 1659.8,839.9 1660.3,841.9 1660.7,843.8 1661.1,845.8 1661.5,847.7 1661.9,849.7 1662.3,851.6 1662.7,853.6 1663.1,855.6 1663.5,857.5 1663.9,859.5 1664.3,861.4 1664.7,863.4 1665.1,865.4 1665.4,867.3 1665.8,869.3 1666.2,871.3 1666.6,873.2 1667.0,875.2 1667.4,877.2 1667.7,879.1 1668.1,881.1 1668.5,883.0 1668.9,885.0 1669.3,887.0 1669.7,888.9 1670.1,890.9 1670.5,892.8 1670.8,894.8 1671.2,896.8 1671.6,898.7 1672.0,900.7 1672.4,902.7 1672.8,904.6 1673.2,906.6 1673.6,908.5 1674.0,910.5 1674.4,912.5 1674.8,914.4 1675.1,916.4 1675.5,918.4 1675.9,920.3 1676.3,922.3 1676.7,924.2 1677.1,926.2 1677.5,928.2 1677.9,930.1 1678.3,932.1 1678.7,934.0 1679.1,936.0 1679.5,938.0 1679.9,939.9 1680.3,941.9 1680.7,943.8 1681.1,945.8 1681.5,947.8 1681.9,949.7 1682.3,951.7 1682.6,953.6 1683.0,955.6 1683.4,957.6 1683.8,959.5 1684.2,961.5 1684.6,963.4 1685.0,965.4 1685.4,967.4 1685.8,969.3 1686.2,971.3 1686.6,973.2 1687.0,975.2 1687.4,977.2 1687.8,979.1 1688.2,981.1 1688.6,983.1 1689.0,985.0 1689.4,987.0 1689.8,988.9 1690.1,990.9 1690.5,992.9 1690.8,994.8 1691.2,996.8 1691.6,998.8 1691.9,1000.8 1692.2,1002.7 1692.6,1004.7 1692.9,1006.7 1693.2,1008.6 1693.5,1010.6 1693.8,1012.6 1694.1,1014.6 1694.4,1016.5 1694.7,1018.5 1695.0,1020.5 1695.3,1022.5 1695.6,1024.5 1695.9,1026.4 1696.2,1028.4 1696.5,1030.4 1696.7,1032.4 1697.0,1034.4 1697.3,1036.3 1697.5,1038.3 1697.8,1040.3 1698.1,1042.3 1698.3,1044.3 1698.6,1046.3 1698.9,1048.2 1699.1,1050.2 1699.4,1052.2 1699.6,1054.2 1699.9,1056.2 1700.1,1058.2 1700.3,1060.2 1700.6,1062.1 1700.8,1064.1 1701.1,1066.1 1701.3,1068.1 1701.5,1070.1 1701.8,1072.1 1702.0,1074.1 1702.2,1076.0 1702.4,1078.0 1702.6,1080.0 1702.9,1082.0 1703.1,1084.0 1703.3,1086.0 1703.5,1088.0 1703.7,1090.0 1703.9,1092.0 1704.1,1094.0 1704.3,1095.9 1704.5,1097.9 1704.7,1099.9 1704.9,1101.9 1705.1,1103.9 1705.3,1105.9 1705.5,1107.9 1705.7,1109.9 1705.9,1111.9 1706.1,1113.9 1706.3,1115.8 1706.5,1117.8 1706.7,1119.8 1706.9,1121.8 1707.2,1123.8 1707.4,1125.8 1707.6,1127.8 1707.8,1129.8 1708.0,1131.8 1708.2,1133.7 1708.4,1135.7 1708.6,1137.7 1708.8,1139.7 1709.0,1141.7 1709.2,1143.7 1709.4,1145.7 1709.6,1147.7 1709.8,1149.7 1710.0,1151.7 1710.2,1153.7 1710.4,1155.6 1710.6,1157.6 1710.8,1159.6 1711.0,1161.6 1711.2,1163.6 1711.4,1165.6 1711.6,1167.6 1711.8,1169.6 1712.0,1171.6 1712.2,1173.6 1712.4,1175.5 1712.6,1177.5 1712.9,1179.5 1713.1,1181.5 1713.3,1183.5 1713.6,1185.5 1713.8,1187.5 1714.0,1189.4 1714.3,1191.4 1714.5,1193.4 1714.8,1195.4 1715.0,1197.4 1715.3,1199.4 1715.5,1201.4 1715.8,1203.3 1716.0,1205.3 1716.3,1207.3 1716.5,1209.3 1716.8,1211.3 1717.1,1213.3 1717.3,1215.2 1717.6,1217.2 1717.8,1219.2 1718.1,1221.2 1718.3,1223.2 1718.5,1225.2 1718.8,1227.2 1719.0,1229.1 1719.3,1231.1 1719.5,1233.1 1719.7,1235.1 1720.0,1237.1 1720.2,1239.1 1720.5,1241.1 1720.7,1243.0 1721.0,1245.0 1721.2,1247.0 1721.5,1249.0 1721.7,1251.0 1722.0,1253.0 1722.2,1254.9 1722.5,1256.9 1722.8,1258.9 1723.0,1260.9 1723.3,1262.9 1723.6,1264.9 1723.8,1266.8 1724.1,1268.8 1724.4,1270.8 1724.7,1272.8 1724.9,1274.8 1725.2,1276.7 1725.5,1278.7 1725.8,1280.7 1726.1,1282.7 1726.4,1284.7 1726.7,1286.6 1727.1,1288.6 1727.4,1290.6 1727.7,1292.5 1728.1,1294.5 1728.4,1296.5 1728.8,1298.4 1729.2,1300.4 1729.6,1302.4 1729.9,1304.3 1730.3,1306.3 1730.7,1308.3 1731.1,1310.2 1731.6,1312.2 1732.0,1314.1 1732.4,1316.1 1732.9,1318.0 1733.3,1320.0 1733.7,1321.9 1734.2,1323.9 1734.7,1325.8 1735.1,1327.8 1735.6,1329.7 1736.1,1331.7 1736.5,1333.6 1737.0,1335.5 1737.5,1337.5 1738.0,1339.4 1738.5,1341.4 1739.0,1343.3 1739.5,1345.2 1740.0,1347.2 1740.5,1349.1 1741.0,1351.0 1741.5,1353.0 1742.1,1354.9 1742.6,1356.8 1743.1,1358.8 1743.7,1360.7 1744.2,1362.6 1744.7,1364.5 1745.3,1366.5 1745.8,1368.4 1746.4,1370.3 1746.9,1372.2 1747.5,1374.2 1748.0,1376.1 1748.6,1378.0 1749.1,1379.9 1749.7,1381.8 1750.2,1383.8 1750.8,1385.7 1751.4,1387.6 1752.0,1389.5 1752.5,1391.4 1753.1,1393.3 1753.8,1395.2 1754.4,1397.1 1755.0,1399.0 1755.7,1400.9 1756.4,1402.8 1757.1,1404.7 1757.8,1406.5 1758.5,1408.4 1759.2,1410.2 1760.0,1412.1 1760.7,1414.0 1761.5,1415.8 1762.2,1417.7 1762.9,1419.5 1763.6,1421.4 1764.2,1423.3 1764.8,1425.2 1765.4,1427.1 1765.9,1429.0 1766.4,1431.0 1766.8,1432.9 1767.2,1434.9 1767.6,1436.8 1768.0,1438.8 1768.3,1440.7 1768.6,1442.7 1769.0,1444.7 1769.3,1446.7 1769.5,1448.6 1769.8,1450.6 1770.1,1452.6 1770.4,1454.6 1770.7,1456.6 1770.9,1458.5 1771.2,1460.5 1771.5,1462.5 1771.8,1464.5 1772.1,1466.5 1772.4,1468.4 1772.6,1470.4 1772.9,1472.4 1773.2,1474.4 1773.5,1476.4 1773.8,1478.3 1774.0,1480.3 1774.3,1482.3 1774.6,1484.3 1774.9,1486.3 1775.1,1488.3 1775.4,1490.2 1775.7,1492.2 1776.0,1494.2 1776.2,1496.2 1776.5,1498.2 1776.8,1500.1 1777.1,1502.1 1777.3,1504.1 1777.6,1506.1 1777.9,1508.1 1778.1,1510.0 1778.4,1512.0 1778.7,1514.0 1779.0,1516.0 1779.2,1518.0 1779.5,1520.0 1779.8,1521.9 1780.1,1523.9 1780.3,1525.9 1780.6,1527.9 1780.9,1529.9 1781.2,1531.8 1781.4,1533.8 1781.7,1535.8 1782.0,1537.8 1782.3,1539.8 1782.6,1541.7 1782.8,1543.7 1783.1,1545.7 1783.4,1547.7 1783.7,1549.7 1784.0,1551.7 1784.2,1553.6 1784.5,1555.6 1784.8,1557.6 1785.1,1559.6 1785.4,1561.6 1785.6,1563.5 1785.9,1565.5 1786.2,1567.5 1786.5,1569.5 1786.7,1571.5 1787.0,1573.4 1787.3,1575.4 1787.6,1577.4 1787.8,1579.4 1788.1,1581.4 1788.4,1583.3 1788.7,1585.3 1788.9,1587.3 1789.2,1589.3 1789.5,1591.3 1789.7,1593.3 1790.0,1595.2 1790.3,1597.2 1790.5,1599.2 1790.8,1601.2 1791.1,1603.2 1791.3,1605.2 1791.6,1607.1 1791.9,1609.1 1792.1,1611.1 1792.4,1613.1 1792.7,1615.1 1792.9,1617.1 1793.2,1619.0 1793.4,1621.0 1793.7,1623.0" stroke="#3dbb70" stroke-width="7.2"/>
</g>
<text x="260" y="105" text-anchor="end" style="font-family:'Liberation Serif','Times New Roman',serif;font-weight:bold;font-size:102px">25</text>
<text x="260" y="420.6" text-anchor="end" style="font-family:'Liberation Serif','Times New Roman',serif;font-weight:bold;font-size:102px">20</text>
<text x="260" y="736.6" text-anchor="end" style="font-family:'Liberation Serif','Times New Roman',serif;font-weight:bold;font-size:102px">15</text>
<text x="260" y="1038.5" text-anchor="end" style="font-family:'Liberation Serif','Times New Roman',serif;font-weight:bold;font-size:102px">10</text>
<text x="258.4" y="1349.5" text-anchor="end" style="font-family:'Liberation Serif','Times New Roman',serif;font-weight:bold;font-size:102px">5</text>
<text x="260" y="1661" text-anchor="end" style="font-family:'Liberation Serif','Times New Roman',serif;font-weight:bold;font-size:102px">0</text>
<text x="316.8" y="1749.5" text-anchor="middle" style="font-family:'Liberation Serif','Times New Roman',serif;font-weight:bold;font-size:102px">0</text>
<text x="647.8" y="1749" text-anchor="middle" style="font-family:'Liberation Serif','Times New Roman',serif;font-weight:bold;font-size:102px">0.2</text>
<text x="988.6" y="1755.5" text-anchor="middle" style="font-family:'Liberation Serif','Times New Roman',serif;font-weight:bold;font-size:102px">0.4</text>
<text x="1352.9" y="1749.8" text-anchor="middle" style="font-family:'Liberation Serif','Times New Roman',serif;font-weight:bold;font-size:102px">0.6</text>
<text x="1707.3" y="1750.5" text-anchor="middle" style="font-family:'Liberation Serif','Times New Roman',serif;font-weight:bold;font-size:102px">0.8</text>
<text x="2061.5" y="1750" text-anchor="middle" style="font-family:'Liberation Serif','Times New Roman',serif;font-weight:bold;font-size:102px">1.0</text>
<rect x="398.7" y="1271.2" width="235" height="15.6" fill="#000"/>
<rect x="398.7" y="1352.6" width="235" height="15.6" fill="#c00000"/>
<rect x="398.7" y="1430.0" width="235" height="15.6" fill="#0070c0"/>
<rect x="398.7" y="1514.2" width="235" height="15.6" fill="#00b050"/>
<g>
<text transform="translate(1023.07,1876.10) scale(0.8239,1.0494)" style="font-family:'DejaVu Serif',serif;font-weight:bold;font-style:italic;font-size:100px;stroke:#fff;stroke-width:2.14px;stroke-linejoin:round">V</text>
<text transform="translate(1103.03,1891.89) scale(1.3752,1.1440)" style="font-family:'IPAGothic',sans-serif;font-size:100px;stroke:#fff;stroke-width:1.19px;stroke-linejoin:round">(</text>
<text transform="translate(1161.07,1876.10) scale(0.8239,1.0494)" style="font-family:'DejaVu Serif',serif;font-weight:bold;font-style:italic;font-size:100px;stroke:#fff;stroke-width:2.14px;stroke-linejoin:round">V</text>
<text transform="translate(1232.47,1874.83) scale(0.9149,1.0359)" style="font-family:'DejaVu Serif',serif;font-weight:bold;font-style:italic;font-size:100px;stroke:#fff;stroke-width:2.05px;stroke-linejoin:round">o</text>
<text transform="translate(1296.54,1876.30) scale(0.9834,1.0464)" style="font-family:'DejaVu Serif',serif;font-weight:bold;font-style:italic;font-size:100px;stroke:#fff;stroke-width:1.97px;stroke-linejoin:round">l</text>
<text transform="translate(1335.98,1874.90) scale(0.9868,0.9894)" style="font-family:'DejaVu Serif',serif;font-weight:bold;font-style:italic;font-size:100px;stroke:#fff;stroke-width:2.02px;stroke-linejoin:round">t</text>
<text transform="translate(1384.65,1874.83) scale(0.9227,1.0359)" style="font-family:'DejaVu Serif',serif;font-weight:bold;font-style:italic;font-size:100px;stroke:#fff;stroke-width:2.04px;stroke-linejoin:round">s</text>
<text transform="translate(1428.68,1891.79) scale(1.2860,1.1440)" style="font-family:'IPAGothic',sans-serif;font-size:100px;stroke:#fff;stroke-width:1.23px;stroke-linejoin:round">)</text>
</g>
<g>
<text transform="rotate(-90) translate(-1146.41,96.28) scale(0.8201,1.0299)" style="font-family:'DejaVu Serif',serif;font-weight:bold;font-style:italic;font-size:100px;stroke:#fff;stroke-width:2.16px;stroke-linejoin:round">J</text>
<text transform="rotate(-90) translate(-1088.36,112.41) scale(1.2972,1.1401)" style="font-family:'IPAGothic',sans-serif;font-size:100px;stroke:#fff;stroke-width:1.23px;stroke-linejoin:round">(</text>
<text transform="rotate(-90) translate(-1038.19,96.80) scale(1.0576,1.0521)" style="font-family:'DejaVu Serif',serif;font-weight:bold;font-style:italic;font-size:100px;stroke:#fff;stroke-width:1.90px;stroke-linejoin:round">m</text>
<text transform="rotate(-90) translate(-925.88,96.80) scale(0.8472,1.0466)" style="font-family:'DejaVu Serif',serif;font-weight:bold;font-style:italic;font-size:100px;stroke:#fff;stroke-width:2.11px;stroke-linejoin:round">A</text>
<text transform="rotate(-90) translate(-805.83,97.00) scale(0.8987,1.0615)" style="font-family:'DejaVu Serif',serif;font-weight:bold;font-style:italic;font-size:100px;stroke:#fff;stroke-width:2.04px;stroke-linejoin:round">c</text>
<text transform="rotate(-90) translate(-756.44,97.20) scale(1.0570,1.0746)" style="font-family:'DejaVu Serif',serif;font-weight:bold;font-style:italic;font-size:100px;stroke:#fff;stroke-width:1.88px;stroke-linejoin:round">m</text>
<text transform="rotate(-90) translate(-644.73,63.50) scale(0.5543,0.6899)" style="font-family:'DejaVu Serif',serif;font-weight:bold;font-style:italic;font-size:100px;stroke:#fff;stroke-width:3.22px;stroke-linejoin:round">2</text>
<text transform="rotate(-90) translate(-617.74,110.59) scale(1.2489,1.0837)" style="font-family:'IPAGothic',sans-serif;font-size:100px;stroke:#fff;stroke-width:1.29px;stroke-linejoin:round">)</text>
<text transform="rotate(-90) translate(-854.50,107.61) scale(1.3802,1.2278)" style="font-family:'DejaVu Serif',serif;font-size:100px">/</text>
</g>
<g>
<text transform="translate(667.06,1297.80) scale(0.4829,0.6741)" style="font-family:'Liberation Serif','Times New Roman',serif;font-size:100px">1</text>
<text transform="translate(694.27,1297.54) scale(0.5713,0.6727)" style="font-family:'Liberation Serif','Times New Roman',serif;font-size:100px">3</text>
<text transform="translate(726.59,1297.55) scale(0.6323,0.6698)" style="font-family:'Liberation Serif','Times New Roman',serif;font-size:100px">0</text>
<text transform="translate(777.21,1300.34) scale(0.7090,0.7058)" style="font-family:'Liberation Serif','Times New Roman',serif;font-size:100px;stroke:#fff;stroke-width:1.70px;stroke-linejoin:round">°</text>
<text transform="translate(802.29,1297.55) scale(0.6605,0.6623)" style="font-family:'Liberation Serif','Times New Roman',serif;font-size:100px">C</text>
<text transform="translate(667.06,1378.90) scale(0.4829,0.6847)" style="font-family:'Liberation Serif','Times New Roman',serif;font-size:100px">1</text>
<text transform="translate(695.27,1378.63) scale(0.5561,0.6907)" style="font-family:'Liberation Serif','Times New Roman',serif;font-size:100px">5</text>
<text transform="translate(726.59,1378.64) scale(0.6323,0.6802)" style="font-family:'Liberation Serif','Times New Roman',serif;font-size:100px">0</text>
<text transform="translate(777.21,1380.74) scale(0.7090,0.7058)" style="font-family:'Liberation Serif','Times New Roman',serif;font-size:100px;stroke:#fff;stroke-width:1.70px;stroke-linejoin:round">°</text>
<text transform="translate(802.29,1378.64) scale(0.6605,0.6727)" style="font-family:'Liberation Serif','Times New Roman',serif;font-size:100px">C</text>
<text transform="translate(667.06,1456.40) scale(0.4829,0.6604)" style="font-family:'Liberation Serif','Times New Roman',serif;font-size:100px">1</text>
<text transform="translate(694.70,1456.16) scale(0.6062,0.6593)" style="font-family:'Liberation Serif','Times New Roman',serif;font-size:100px">6</text>
<text transform="translate(726.59,1456.16) scale(0.6323,0.6565)" style="font-family:'Liberation Serif','Times New Roman',serif;font-size:100px">0</text>
<text transform="translate(777.21,1459.84) scale(0.7090,0.7058)" style="font-family:'Liberation Serif','Times New Roman',serif;font-size:100px;stroke:#fff;stroke-width:1.70px;stroke-linejoin:round">°</text>
<text transform="translate(802.29,1456.17) scale(0.6605,0.6489)" style="font-family:'Liberation Serif','Times New Roman',serif;font-size:100px">C</text>
<text transform="translate(667.06,1541.80) scale(0.4829,0.6695)" style="font-family:'Liberation Serif','Times New Roman',serif;font-size:100px">1</text>
<text transform="translate(693.09,1542.20) scale(0.6391,0.6857)" style="font-family:'Liberation Serif','Times New Roman',serif;font-size:100px">7</text>
<text transform="translate(726.59,1541.55) scale(0.6323,0.6654)" style="font-family:'Liberation Serif','Times New Roman',serif;font-size:100px">0</text>
<text transform="translate(777.21,1544.64) scale(0.7090,0.7058)" style="font-family:'Liberation Serif','Times New Roman',serif;font-size:100px;stroke:#fff;stroke-width:1.70px;stroke-linejoin:round">°</text>
<text transform="translate(802.29,1541.56) scale(0.6605,0.6579)" style="font-family:'Liberation Serif','Times New Roman',serif;font-size:100px">C</text>
</g>
<text transform="translate(58.76,67.51) scale(0.8327,0.9145)" style="font-family:'Liberation Sans',Arial,sans-serif;font-size:100px;stroke:#fff;stroke-width:0.92px;stroke-linejoin:round">c</text>
</svg>
</body></html>
